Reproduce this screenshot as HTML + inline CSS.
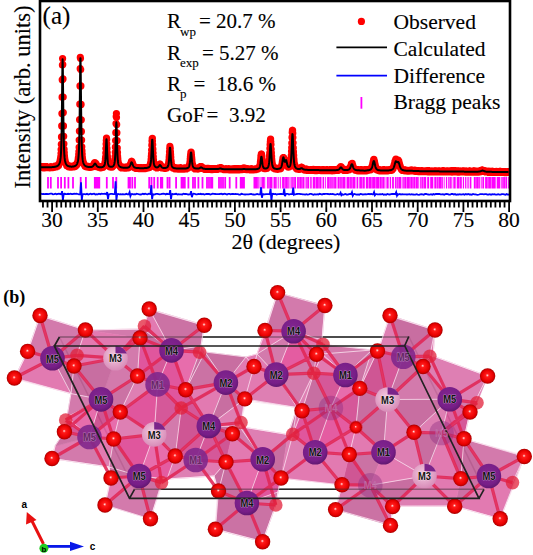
<!DOCTYPE html>
<html><head><meta charset="utf-8"><style>
html,body{margin:0;padding:0;background:#fff;width:533px;height:555px;overflow:hidden;position:relative}
.ct text{stroke:#000;stroke-width:0.12px}
</style></head><body>
<svg width="533" height="555" viewBox="0 0 533 555" style="position:absolute;left:0;top:0"><defs><radialGradient id="rg" cx="0.5" cy="0.5" r="0.5" fx="0.48" fy="0.45"><stop offset="0" stop-color="#ffffff"/><stop offset="0.1" stop-color="#ff8080"/><stop offset="0.22" stop-color="#ff1a1a"/><stop offset="0.75" stop-color="#e80000"/><stop offset="1" stop-color="#a80000"/></radialGradient><radialGradient id="pg" cx="0.45" cy="0.4" r="0.6"><stop offset="0" stop-color="#82268f"/><stop offset="0.75" stop-color="#781e88"/><stop offset="1" stop-color="#621872"/></radialGradient><radialGradient id="lg" cx="0.45" cy="0.4" r="0.6"><stop offset="0" stop-color="#f4cce2"/><stop offset="1" stop-color="#d88cb8"/></radialGradient></defs><path d="M59.5 337H408.8M134.5 489.3H484M59.5 337L134.5 489.3M408.8 336.5L484 489.3" stroke="#222" stroke-width="1.6" fill="none"/><g opacity="0.93"><polygon points="500.2,518.8 512.5,482.6 524.3,456.5" fill="#c8689e" stroke="#c8689e" stroke-width="0.6"/><polygon points="488.9,476.0 512.5,482.6 500.2,518.8" fill="#e070ac" stroke="#e070ac" stroke-width="0.6"/><polygon points="454.7,506.2 488.9,476.0 500.2,518.8" fill="#e070ac" stroke="#e070ac" stroke-width="0.6"/><polygon points="488.9,476.0 454.7,506.2 460.8,478.6" fill="#c8689e" stroke="#c8689e" stroke-width="0.6"/><polygon points="512.5,482.6 488.9,476.0 524.3,456.5" fill="#dc76ae" stroke="#dc76ae" stroke-width="0.6"/><polygon points="157.6,384.4 185.7,389.7 181.2,408.0" fill="#de4a96" stroke="#de4a96" stroke-width="0.6"/><polygon points="154.2,434.4 157.6,384.4 181.2,408.0" fill="#d24c92" stroke="#d24c92" stroke-width="0.6"/><polygon points="27.6,351.4 52.5,358.3 14.4,378.0" fill="#e070ac" stroke="#e070ac" stroke-width="0.6"/><polygon points="52.5,358.3 27.6,351.4 40.0,315.5" fill="#d070a6" stroke="#d070a6" stroke-width="0.6"/><polygon points="52.5,358.3 71.0,393.6 14.4,378.0" fill="#e070ac" stroke="#e070ac" stroke-width="0.6"/><polygon points="85.4,330.0 52.5,358.3 40.0,315.5" fill="#d070a6" stroke="#d070a6" stroke-width="0.6"/><polygon points="171.5,350.4 201.0,346.0 199.6,352.2" fill="#c4649a" stroke="#c4649a" stroke-width="0.6"/><polygon points="185.7,389.7 171.5,350.4 199.6,352.2" fill="#e662a6" stroke="#e662a6" stroke-width="0.6"/><polygon points="171.5,350.4 185.7,389.7 157.6,384.4" fill="#de4a96" stroke="#de4a96" stroke-width="0.6"/><polygon points="204.3,325.2 171.5,350.4 149.2,309.0" fill="#c8689e" stroke="#c8689e" stroke-width="0.6"/><polygon points="201.0,346.0 171.5,350.4 204.3,325.2" fill="#c8689e" stroke="#c8689e" stroke-width="0.6"/><polygon points="205.0,352.0 185.7,389.7 199.6,352.2" fill="#c4649a" stroke="#c4649a" stroke-width="0.6"/><polygon points="201.0,346.0 205.0,352.0 199.6,352.2" fill="#e070ac" stroke="#e070ac" stroke-width="0.6"/><polygon points="154.2,434.4 120.3,412.0 157.6,384.4" fill="#de4a96" stroke="#de4a96" stroke-width="0.6"/><polygon points="85.4,330.0 77.0,355.3 52.5,358.3" fill="#c4649a" stroke="#c4649a" stroke-width="0.6"/><polygon points="246.9,503.0 218.5,491.0 226.0,462.0" fill="#c4649a" stroke="#c4649a" stroke-width="0.6"/><polygon points="205.0,352.0 225.9,382.6 185.7,389.7" fill="#c8689e" stroke="#c8689e" stroke-width="0.6"/><polygon points="215.4,529.3 246.9,503.0 262.6,541.7" fill="#c8689e" stroke="#c8689e" stroke-width="0.6"/><polygon points="246.9,503.0 215.4,529.3 218.5,491.0" fill="#c8689e" stroke="#c8689e" stroke-width="0.6"/><polygon points="225.9,382.6 246.0,357.0 254.0,366.5" fill="#e070ac" stroke="#e070ac" stroke-width="0.6"/><polygon points="246.0,357.0 225.9,382.6 205.0,352.0" fill="#c4649a" stroke="#c4649a" stroke-width="0.6"/><polygon points="161.5,482.6 139.2,476.0 167.0,479.0" fill="#d070a6" stroke="#d070a6" stroke-width="0.6"/><polygon points="139.2,476.0 150.5,518.8 105.0,505.0" fill="#d070a6" stroke="#d070a6" stroke-width="0.6"/><polygon points="139.2,476.0 161.5,482.6 150.5,518.8" fill="#c8689e" stroke="#c8689e" stroke-width="0.6"/><polygon points="175.2,456.0 195.7,460.0 167.0,479.0" fill="#e070ac" stroke="#e070ac" stroke-width="0.6"/><polygon points="139.2,476.0 175.2,456.0 167.0,479.0" fill="#e2509a" stroke="#e2509a" stroke-width="0.6"/><polygon points="175.2,456.0 139.2,476.0 154.2,434.4" fill="#e662a6" stroke="#e662a6" stroke-width="0.6"/><polygon points="175.2,456.0 154.2,434.4 181.2,408.0" fill="#d070a6" stroke="#d070a6" stroke-width="0.6"/><polygon points="195.7,460.0 214.0,476.0 167.0,479.0" fill="#dc76ae" stroke="#dc76ae" stroke-width="0.6"/><polygon points="218.5,491.0 214.0,476.0 226.0,462.0" fill="#c4649a" stroke="#c4649a" stroke-width="0.6"/><polygon points="214.0,476.0 195.7,460.0 226.0,462.0" fill="#e070ac" stroke="#e070ac" stroke-width="0.6"/><polygon points="208.8,426.0 232.4,433.8 226.0,462.0" fill="#cc4a8c" stroke="#cc4a8c" stroke-width="0.6"/><polygon points="195.7,460.0 208.8,426.0 226.0,462.0" fill="#d24c92" stroke="#d24c92" stroke-width="0.6"/><polygon points="208.8,426.0 175.2,456.0 181.2,408.0" fill="#cc4a8c" stroke="#cc4a8c" stroke-width="0.6"/><polygon points="175.2,456.0 208.8,426.0 195.7,460.0" fill="#d24c92" stroke="#d24c92" stroke-width="0.6"/><polygon points="185.7,389.7 208.8,426.0 181.2,408.0" fill="#d24c92" stroke="#d24c92" stroke-width="0.6"/><polygon points="225.9,382.6 208.8,426.0 185.7,389.7" fill="#e070ac" stroke="#e070ac" stroke-width="0.6"/><polygon points="71.0,393.6 74.0,366.0 101.0,399.4" fill="#c4649a" stroke="#c4649a" stroke-width="0.6"/><polygon points="74.0,366.0 71.0,393.6 52.5,358.3" fill="#c8689e" stroke="#c8689e" stroke-width="0.6"/><polygon points="77.0,355.3 74.0,366.0 52.5,358.3" fill="#dc76ae" stroke="#dc76ae" stroke-width="0.6"/><polygon points="372.0,350.0 380.0,345.0 377.5,351.0" fill="#d070a6" stroke="#d070a6" stroke-width="0.6"/><polygon points="324.9,305.5 293.6,331.2 277.6,292.6" fill="#d070a6" stroke="#d070a6" stroke-width="0.6"/><polygon points="293.6,331.2 265.0,330.5 277.6,292.6" fill="#c8689e" stroke="#c8689e" stroke-width="0.6"/><polygon points="377.5,351.0 403.3,356.8 387.6,399.5" fill="#d24c92" stroke="#d24c92" stroke-width="0.6"/><polygon points="403.3,356.8 423.0,366.5 387.6,399.5" fill="#c8689e" stroke="#c8689e" stroke-width="0.6"/><polygon points="380.0,345.0 403.3,356.8 377.5,351.0" fill="#dc76ae" stroke="#dc76ae" stroke-width="0.6"/><polygon points="403.3,356.8 390.0,315.5 435.0,330.0" fill="#c4649a" stroke="#c4649a" stroke-width="0.6"/><polygon points="403.3,356.8 380.0,345.0 390.0,315.5" fill="#dc76ae" stroke="#dc76ae" stroke-width="0.6"/><polygon points="424.5,476.0 392.6,506.5 370.3,485.2" fill="#c4649a" stroke="#c4649a" stroke-width="0.6"/><polygon points="424.5,476.0 441.6,433.0 460.8,478.6" fill="#e070ac" stroke="#e070ac" stroke-width="0.6"/><polygon points="441.6,433.0 424.5,476.0 414.0,432.3" fill="#c4649a" stroke="#c4649a" stroke-width="0.6"/><polygon points="454.7,506.2 424.5,476.0 460.8,478.6" fill="#e070ac" stroke="#e070ac" stroke-width="0.6"/><polygon points="392.6,506.5 424.5,476.0 454.7,506.2" fill="#dc76ae" stroke="#dc76ae" stroke-width="0.6"/><polygon points="392.6,506.5 390.5,525.4 370.3,485.2" fill="#e070ac" stroke="#e070ac" stroke-width="0.6"/><polygon points="171.5,350.4 144.4,326.0 149.2,309.0" fill="#e070ac" stroke="#e070ac" stroke-width="0.6"/><polygon points="137.5,376.0 171.5,350.4 157.6,384.4" fill="#d24c92" stroke="#d24c92" stroke-width="0.6"/><polygon points="137.5,376.0 140.0,338.0 171.5,350.4" fill="#de4a96" stroke="#de4a96" stroke-width="0.6"/><polygon points="137.5,376.0 120.3,412.0 101.0,399.4" fill="#c8689e" stroke="#c8689e" stroke-width="0.6"/><polygon points="120.3,412.0 137.5,376.0 157.6,384.4" fill="#dc76ae" stroke="#dc76ae" stroke-width="0.6"/><polygon points="120.3,412.0 89.5,437.0 101.0,399.4" fill="#cc4a8c" stroke="#cc4a8c" stroke-width="0.6"/><polygon points="89.5,437.0 109.0,467.0 52.0,458.5" fill="#d070a6" stroke="#d070a6" stroke-width="0.6"/><polygon points="55.0,446.0 89.5,437.0 52.0,458.5" fill="#dc76ae" stroke="#dc76ae" stroke-width="0.6"/><polygon points="111.0,478.0 139.2,476.0 105.0,505.0" fill="#e070ac" stroke="#e070ac" stroke-width="0.6"/><polygon points="139.2,476.0 111.0,478.0 109.0,467.0" fill="#c8689e" stroke="#c8689e" stroke-width="0.6"/><polygon points="359.8,388.4 377.5,351.0 387.6,399.5" fill="#cc4a8c" stroke="#cc4a8c" stroke-width="0.6"/><polygon points="359.8,388.4 372.0,350.0 377.5,351.0" fill="#dc76ae" stroke="#dc76ae" stroke-width="0.6"/><polygon points="257.0,354.0 276.3,374.6 254.0,366.5" fill="#e070ac" stroke="#e070ac" stroke-width="0.6"/><polygon points="246.0,357.0 257.0,354.0 254.0,366.5" fill="#e070ac" stroke="#e070ac" stroke-width="0.6"/><polygon points="293.6,331.2 257.0,354.0 265.0,330.5" fill="#e070ac" stroke="#e070ac" stroke-width="0.6"/><polygon points="257.0,354.0 293.6,331.2 276.3,374.6" fill="#d070a6" stroke="#d070a6" stroke-width="0.6"/><polygon points="349.3,454.5 383.5,452.2 370.3,485.2" fill="#c8689e" stroke="#c8689e" stroke-width="0.6"/><polygon points="383.5,452.2 424.5,476.0 370.3,485.2" fill="#e070ac" stroke="#e070ac" stroke-width="0.6"/><polygon points="424.5,476.0 383.5,452.2 414.0,432.3" fill="#dc76ae" stroke="#dc76ae" stroke-width="0.6"/><polygon points="414.0,432.3 383.5,452.2 387.6,399.5" fill="#dc76ae" stroke="#dc76ae" stroke-width="0.6"/><polygon points="429.8,356.2 403.3,356.8 435.0,330.0" fill="#d070a6" stroke="#d070a6" stroke-width="0.6"/><polygon points="403.3,356.8 429.8,356.2 423.0,366.5" fill="#d070a6" stroke="#d070a6" stroke-width="0.6"/><polygon points="464.0,438.8 488.9,476.0 460.8,478.6" fill="#c4649a" stroke="#c4649a" stroke-width="0.6"/><polygon points="441.6,433.0 464.0,438.8 460.8,478.6" fill="#cc4a8c" stroke="#cc4a8c" stroke-width="0.6"/><polygon points="464.0,438.8 441.6,433.0 470.0,412.0" fill="#d24c92" stroke="#d24c92" stroke-width="0.6"/><polygon points="488.9,476.0 464.0,438.8 524.3,456.5" fill="#d070a6" stroke="#d070a6" stroke-width="0.6"/><polygon points="449.8,399.2 441.6,433.0 414.0,432.3" fill="#dc76ae" stroke="#dc76ae" stroke-width="0.6"/><polygon points="423.0,366.5 449.8,399.2 387.6,399.5" fill="#d070a6" stroke="#d070a6" stroke-width="0.6"/><polygon points="449.8,399.2 414.0,432.3 387.6,399.5" fill="#c4649a" stroke="#c4649a" stroke-width="0.6"/><polygon points="441.6,433.0 449.8,399.2 470.0,412.0" fill="#da589c" stroke="#da589c" stroke-width="0.6"/><polygon points="449.8,399.2 477.0,402.8 470.0,412.0" fill="#d070a6" stroke="#d070a6" stroke-width="0.6"/><polygon points="477.0,402.8 449.8,399.2 487.6,376.0" fill="#dc76ae" stroke="#dc76ae" stroke-width="0.6"/><polygon points="140.0,338.0 143.0,329.0 171.5,350.4" fill="#c4649a" stroke="#c4649a" stroke-width="0.6"/><polygon points="143.0,329.0 144.4,326.0 171.5,350.4" fill="#c4649a" stroke="#c4649a" stroke-width="0.6"/><polygon points="143.0,329.0 140.0,338.0 85.4,330.0" fill="#d070a6" stroke="#d070a6" stroke-width="0.6"/><polygon points="137.5,376.0 115.5,358.2 140.0,338.0" fill="#d070a6" stroke="#d070a6" stroke-width="0.6"/><polygon points="115.5,358.2 77.0,355.3 85.4,330.0" fill="#e070ac" stroke="#e070ac" stroke-width="0.6"/><polygon points="140.0,338.0 115.5,358.2 85.4,330.0" fill="#e070ac" stroke="#e070ac" stroke-width="0.6"/><polygon points="115.5,358.2 137.5,376.0 101.0,399.4" fill="#d070a6" stroke="#d070a6" stroke-width="0.6"/><polygon points="74.0,366.0 115.5,358.2 101.0,399.4" fill="#c4649a" stroke="#c4649a" stroke-width="0.6"/><polygon points="115.5,358.2 74.0,366.0 77.0,355.3" fill="#e070ac" stroke="#e070ac" stroke-width="0.6"/><polygon points="113.7,439.0 89.5,437.0 120.3,412.0" fill="#e662a6" stroke="#e662a6" stroke-width="0.6"/><polygon points="89.5,437.0 113.7,439.0 109.0,467.0" fill="#e070ac" stroke="#e070ac" stroke-width="0.6"/><polygon points="113.7,439.0 120.3,412.0 154.2,434.4" fill="#dc76ae" stroke="#dc76ae" stroke-width="0.6"/><polygon points="139.2,476.0 113.7,439.0 154.2,434.4" fill="#de4a96" stroke="#de4a96" stroke-width="0.6"/><polygon points="113.7,439.0 139.2,476.0 109.0,467.0" fill="#c8689e" stroke="#c8689e" stroke-width="0.6"/><polygon points="67.0,417.0 71.0,393.6 101.0,399.4" fill="#d070a6" stroke="#d070a6" stroke-width="0.6"/><polygon points="89.5,437.0 67.0,417.0 101.0,399.4" fill="#e662a6" stroke="#e662a6" stroke-width="0.6"/><polygon points="322.0,340.0 293.6,331.2 324.9,305.5" fill="#d070a6" stroke="#d070a6" stroke-width="0.6"/><polygon points="276.3,374.6 316.5,354.3 313.8,373.2" fill="#d070a6" stroke="#d070a6" stroke-width="0.6"/><polygon points="293.6,331.2 316.5,354.3 276.3,374.6" fill="#e2509a" stroke="#e2509a" stroke-width="0.6"/><polygon points="322.0,340.0 316.5,354.3 293.6,331.2" fill="#e070ac" stroke="#e070ac" stroke-width="0.6"/><polygon points="316.5,354.3 322.0,340.0 323.0,344.4" fill="#e070ac" stroke="#e070ac" stroke-width="0.6"/><polygon points="345.4,375.0 323.0,344.4 372.0,350.0" fill="#d070a6" stroke="#d070a6" stroke-width="0.6"/><polygon points="359.8,388.4 345.4,375.0 372.0,350.0" fill="#c8689e" stroke="#c8689e" stroke-width="0.6"/><polygon points="345.4,375.0 330.9,408.0 313.8,373.2" fill="#d24c92" stroke="#d24c92" stroke-width="0.6"/><polygon points="330.9,408.0 345.4,375.0 359.8,388.4" fill="#e662a6" stroke="#e662a6" stroke-width="0.6"/><polygon points="232.4,433.8 262.7,459.3 226.0,462.0" fill="#e070ac" stroke="#e070ac" stroke-width="0.6"/><polygon points="262.7,459.3 246.9,503.0 226.0,462.0" fill="#e662a6" stroke="#e662a6" stroke-width="0.6"/><polygon points="246.9,503.0 275.8,505.0 262.6,541.7" fill="#c8689e" stroke="#c8689e" stroke-width="0.6"/><polygon points="342.0,484.7 349.3,454.5 370.3,485.2" fill="#cc4a8c" stroke="#cc4a8c" stroke-width="0.6"/><polygon points="429.8,356.2 433.0,356.0 423.0,366.5" fill="#d070a6" stroke="#d070a6" stroke-width="0.6"/><polygon points="433.0,356.0 449.8,399.2 423.0,366.5" fill="#dc76ae" stroke="#dc76ae" stroke-width="0.6"/><polygon points="449.8,399.2 433.0,356.0 487.6,376.0" fill="#dc76ae" stroke="#dc76ae" stroke-width="0.6"/><polygon points="433.0,356.0 429.8,356.2 435.0,330.0" fill="#dc76ae" stroke="#dc76ae" stroke-width="0.6"/><polygon points="64.4,431.7 89.5,437.0 55.0,446.0" fill="#c8689e" stroke="#c8689e" stroke-width="0.6"/><polygon points="355.9,427.3 330.9,408.0 359.8,388.4" fill="#d24c92" stroke="#d24c92" stroke-width="0.6"/><polygon points="355.9,427.3 359.8,388.4 387.6,399.5" fill="#c4649a" stroke="#c4649a" stroke-width="0.6"/><polygon points="383.5,452.2 355.9,427.3 387.6,399.5" fill="#c4649a" stroke="#c4649a" stroke-width="0.6"/><polygon points="355.9,427.3 383.5,452.2 349.3,454.5" fill="#e070ac" stroke="#e070ac" stroke-width="0.6"/><polygon points="330.9,408.0 302.0,410.7 313.8,373.2" fill="#c4649a" stroke="#c4649a" stroke-width="0.6"/><polygon points="322.0,354.0 316.5,354.3 323.0,344.4" fill="#cc4a8c" stroke="#cc4a8c" stroke-width="0.6"/><polygon points="345.4,375.0 322.0,354.0 323.0,344.4" fill="#e070ac" stroke="#e070ac" stroke-width="0.6"/><polygon points="316.5,354.3 322.0,354.0 313.8,373.2" fill="#cc4a8c" stroke="#cc4a8c" stroke-width="0.6"/><polygon points="322.0,354.0 345.4,375.0 313.8,373.2" fill="#e070ac" stroke="#e070ac" stroke-width="0.6"/><polygon points="278.0,492.0 275.8,505.0 246.9,503.0" fill="#d070a6" stroke="#d070a6" stroke-width="0.6"/><polygon points="262.7,459.3 278.0,492.0 246.9,503.0" fill="#de4a96" stroke="#de4a96" stroke-width="0.6"/><polygon points="278.0,492.0 262.7,459.3 281.0,478.0" fill="#de4a96" stroke="#de4a96" stroke-width="0.6"/><polygon points="65.7,420.0 67.0,417.0 89.5,437.0" fill="#e662a6" stroke="#e662a6" stroke-width="0.6"/><polygon points="64.4,431.7 65.7,420.0 89.5,437.0" fill="#d24c92" stroke="#d24c92" stroke-width="0.6"/><polygon points="390.5,525.4 335.6,509.6 370.3,485.2" fill="#c8689e" stroke="#c8689e" stroke-width="0.6"/><polygon points="335.6,509.6 342.0,484.7 370.3,485.2" fill="#dc76ae" stroke="#dc76ae" stroke-width="0.6"/><polygon points="262.7,459.3 288.0,434.5 281.0,478.0" fill="#c4649a" stroke="#c4649a" stroke-width="0.6"/><polygon points="288.0,434.5 292.8,434.4 281.0,478.0" fill="#dc76ae" stroke="#dc76ae" stroke-width="0.6"/><polygon points="315.2,452.2 342.0,484.7 281.0,478.0" fill="#e070ac" stroke="#e070ac" stroke-width="0.6"/><polygon points="292.8,434.4 315.2,452.2 281.0,478.0" fill="#dc76ae" stroke="#dc76ae" stroke-width="0.6"/><polygon points="342.0,484.7 315.2,452.2 349.3,454.5" fill="#e070ac" stroke="#e070ac" stroke-width="0.6"/><polygon points="315.2,452.2 355.9,427.3 349.3,454.5" fill="#e662a6" stroke="#e662a6" stroke-width="0.6"/><polygon points="355.9,427.3 315.2,452.2 330.9,408.0" fill="#e2509a" stroke="#e2509a" stroke-width="0.6"/><polygon points="315.2,452.2 302.0,410.7 330.9,408.0" fill="#d24c92" stroke="#d24c92" stroke-width="0.6"/><polygon points="315.2,452.2 292.8,434.4 302.0,410.7" fill="#de4a96" stroke="#de4a96" stroke-width="0.6"/><polygon points="239.5,426.5 288.0,434.5 262.7,459.3" fill="#dc76ae" stroke="#dc76ae" stroke-width="0.6"/><polygon points="239.5,426.5 262.7,459.3 232.4,433.8" fill="#d070a6" stroke="#d070a6" stroke-width="0.6"/><polygon points="208.8,426.0 239.5,426.5 232.4,433.8" fill="#c4649a" stroke="#c4649a" stroke-width="0.6"/><polygon points="241.0,422.5 239.5,426.5 208.8,426.0" fill="#e070ac" stroke="#e070ac" stroke-width="0.6"/><polygon points="292.8,434.4 297.0,407.5 302.0,410.7" fill="#e070ac" stroke="#e070ac" stroke-width="0.6"/><polygon points="288.0,434.5 297.0,407.5 292.8,434.4" fill="#c8689e" stroke="#c8689e" stroke-width="0.6"/><polygon points="297.0,407.5 276.3,374.6 313.8,373.2" fill="#d070a6" stroke="#d070a6" stroke-width="0.6"/><polygon points="302.0,410.7 297.0,407.5 313.8,373.2" fill="#dc76ae" stroke="#dc76ae" stroke-width="0.6"/><polygon points="244.8,398.9 208.8,426.0 225.9,382.6" fill="#c4649a" stroke="#c4649a" stroke-width="0.6"/><polygon points="244.8,398.9 241.0,422.5 208.8,426.0" fill="#dc76ae" stroke="#dc76ae" stroke-width="0.6"/><polygon points="244.8,398.9 225.9,382.6 254.0,366.5" fill="#dc76ae" stroke="#dc76ae" stroke-width="0.6"/><polygon points="276.3,374.6 244.8,398.9 254.0,366.5" fill="#e070ac" stroke="#e070ac" stroke-width="0.6"/><polygon points="297.0,407.5 244.8,398.9 276.3,374.6" fill="#dc76ae" stroke="#dc76ae" stroke-width="0.6"/></g><polygon points="40.0,316.0 86.0,329.8 143.0,329.0 149.4,309.5 204.4,325.5 201.0,346.0 205.0,352.0 246.0,357.0 257.0,354.0 265.5,331.0 277.6,292.6 325.0,306.0 322.0,340.0 322.0,354.0 372.0,350.0 380.0,345.0 389.5,316.0 435.0,330.0 433.0,356.0 487.6,376.0 470.0,412.0 464.0,439.0 524.4,455.3 515.0,483.0 500.0,519.0 454.0,506.0 393.0,506.0 390.8,525.0 335.6,509.6 342.0,485.0 281.0,478.0 278.0,492.0 275.8,505.0 262.6,541.5 215.0,529.0 217.6,490.0 214.0,476.0 167.0,479.0 163.0,483.0 150.0,519.0 105.0,505.0 110.6,477.5 109.0,467.0 52.0,458.5 55.0,446.0 64.4,431.7 67.0,417.0 71.0,393.6 14.4,379.0 27.6,352.0" fill="none" stroke="#fbe4f0" stroke-width="1" opacity="0.8"/><polygon points="246.5,401.0 297.0,407.5 288.0,434.5 239.5,426.5" fill="none" stroke="#fbe4f0" stroke-width="1" opacity="0.8"/><path d="M316.5 354.3L276.3 374.6M244.8 398.9L276.3 374.6M244.8 398.9L208.8 426.0M392.6 506.5L390.5 525.4M281.0 478.0L292.8 434.4M464.0 438.8L488.9 476.0M302.0 410.7L292.8 434.4M500.2 518.8L488.9 476.0M218.5 491.0L246.9 503.0M277.6 292.6L293.6 331.2M244.8 398.9L297.0 407.5M205.0 352.0L225.9 382.6M225.9 382.6L208.8 426.0M392.6 506.5L454.7 506.2M313.8 373.2L345.4 375.0M27.6 351.4L14.4 378.0M171.5 350.4L157.6 384.4M161.5 482.6L167.0 479.0M470.0 412.0L441.6 433.0M140.0 338.0L115.5 358.2M262.6 541.7L275.8 505.0M377.5 351.0L372.0 350.0M226.0 462.0L262.7 459.3M454.7 506.2L500.2 518.8M316.5 354.3L322.0 354.0M342.0 484.7L335.6 509.6M403.3 356.8L387.6 399.5M370.3 485.2L424.5 476.0M154.2 434.4L139.2 476.0M464.0 438.8L441.6 433.0M302.0 410.7L313.8 373.2M65.7 420.0L67.0 417.0M390.0 315.5L380.0 345.0M429.8 356.2L403.3 356.8M470.0 412.0L464.0 438.8M355.9 427.3L383.5 452.2M292.8 434.4L297.0 407.5M214.0 476.0L167.0 479.0M281.0 478.0L278.0 492.0M144.4 326.0L171.5 350.4M161.5 482.6L139.2 476.0M105.0 505.0L139.2 476.0M372.0 350.0L380.0 345.0M297.0 407.5L288.0 434.5M524.3 456.5L512.5 482.6M67.0 417.0L89.5 437.0M52.0 458.5L55.0 446.0M460.8 478.6L488.9 476.0M40.0 315.5L27.6 351.4M423.0 366.5L433.0 356.0M150.5 518.8L139.2 476.0M208.8 426.0L195.7 460.0M185.7 389.7L157.6 384.4M113.7 439.0L154.2 434.4M199.6 352.2L171.5 350.4M109.0 467.0L139.2 476.0M477.0 402.8L449.8 399.2M387.6 399.5L383.5 452.2M316.5 354.3L322.0 340.0M254.0 366.5L244.8 398.9M414.0 432.3L449.8 399.2M316.5 354.3L293.6 331.2M275.8 505.0L246.9 503.0M342.0 484.7L315.2 452.2M288.0 434.5L239.5 426.5M244.8 398.9L225.9 382.6M143.0 329.0L171.5 350.4M140.0 338.0L143.0 329.0M137.5 376.0L101.0 399.4M175.2 456.0L139.2 476.0M383.5 452.2L424.5 476.0M74.0 366.0L115.5 358.2M14.4 378.0L52.5 358.3M316.5 354.3L313.8 373.2M185.7 389.7L208.8 426.0M323.0 344.4L322.0 340.0M359.8 388.4L355.9 427.3M524.3 456.5L500.2 518.8M226.0 462.0L208.8 426.0M120.3 412.0L101.0 399.4M454.7 506.2L488.9 476.0M487.6 376.0L433.0 356.0M313.8 373.2L322.0 354.0M349.3 454.5L315.2 452.2M232.4 433.8L208.8 426.0M460.8 478.6L441.6 433.0M175.2 456.0L154.2 434.4M137.5 376.0L157.6 384.4M64.4 431.7L89.5 437.0M323.0 344.4L372.0 350.0M322.0 340.0L293.6 331.2M275.8 505.0L278.0 492.0M149.2 309.0L204.3 325.2M204.3 325.2L171.5 350.4M323.0 344.4L345.4 375.0M226.0 462.0L195.7 460.0M120.3 412.0L157.6 384.4M257.0 354.0L276.3 374.6M349.3 454.5L355.9 427.3M241.0 422.5L208.8 426.0M113.7 439.0L109.0 467.0M390.0 315.5L435.0 330.0M199.6 352.2L201.0 346.0M74.0 366.0L71.0 393.6M355.9 427.3L315.2 452.2M244.8 398.9L241.0 422.5M254.0 366.5L246.0 357.0M149.2 309.0L144.4 326.0M85.4 330.0L143.0 329.0M345.4 375.0L330.9 408.0M181.2 408.0L154.2 434.4M226.0 462.0L218.5 491.0M218.5 491.0L215.4 529.3M390.5 525.4L370.3 485.2M265.0 330.5L293.6 331.2M40.0 315.5L52.5 358.3M449.8 399.2L441.6 433.0M239.5 426.5L262.7 459.3M232.4 433.8L239.5 426.5M423.0 366.5L429.8 356.2M372.0 350.0L345.4 375.0M429.8 356.2L433.0 356.0M278.0 492.0L246.9 503.0M377.5 351.0L359.8 388.4M52.0 458.5L109.0 467.0M140.0 338.0L137.5 376.0M218.5 491.0L214.0 476.0M460.8 478.6L424.5 476.0M359.8 388.4L387.6 399.5M293.6 331.2L276.3 374.6M175.2 456.0L181.2 408.0M111.0 478.0L109.0 467.0M101.0 399.4L89.5 437.0M524.3 456.5L488.9 476.0M435.0 330.0L433.0 356.0M85.4 330.0L52.5 358.3M64.4 431.7L65.7 420.0M185.7 389.7L199.6 352.2M241.0 422.5L239.5 426.5M137.5 376.0L120.3 412.0M167.0 479.0L139.2 476.0M324.9 305.5L322.0 340.0M464.0 438.8L460.8 478.6M324.9 305.5L293.6 331.2M313.8 373.2L276.3 374.6M71.0 393.6L52.5 358.3M204.3 325.2L201.0 346.0M316.5 354.3L323.0 344.4M246.0 357.0L225.9 382.6M71.0 393.6L101.0 399.4M65.7 420.0L89.5 437.0M454.7 506.2L424.5 476.0M414.0 432.3L441.6 433.0M111.0 478.0L105.0 505.0M137.5 376.0L115.5 358.2M297.0 407.5L276.3 374.6M175.2 456.0L208.8 426.0M313.8 373.2L297.0 407.5M441.6 433.0L424.5 476.0M265.0 330.5L277.6 292.6M181.2 408.0L157.6 384.4M120.3 412.0L113.7 439.0M449.8 399.2L387.6 399.5M239.5 426.5L208.8 426.0M377.5 351.0L380.0 345.0M359.8 388.4L372.0 350.0M257.0 354.0L293.6 331.2M349.3 454.5L383.5 452.2M67.0 417.0L101.0 399.4M149.2 309.0L171.5 350.4M355.9 427.3L387.6 399.5M175.2 456.0L195.7 460.0M355.9 427.3L330.9 408.0M330.9 408.0L315.2 452.2M157.6 384.4L154.2 434.4M113.7 439.0L89.5 437.0M40.0 315.5L85.4 330.0M85.4 330.0L77.0 355.3M181.2 408.0L208.8 426.0M313.8 373.2L330.9 408.0M302.0 410.7L297.0 407.5M262.7 459.3L246.9 503.0M185.7 389.7L205.0 352.0M74.0 366.0L77.0 355.3M464.0 438.8L524.3 456.5M377.5 351.0L387.6 399.5M414.0 432.3L424.5 476.0M392.6 506.5L370.3 485.2M14.4 378.0L71.0 393.6M226.0 462.0L214.0 476.0M215.4 529.3L262.6 541.7M470.0 412.0L449.8 399.2M435.0 330.0L429.8 356.2M254.0 366.5L257.0 354.0M322.0 354.0L345.4 375.0M74.0 366.0L52.5 358.3M185.7 389.7L225.9 382.6M74.0 366.0L101.0 399.4M150.5 518.8L161.5 482.6M423.0 366.5L387.6 399.5M201.0 346.0L171.5 350.4M302.0 410.7L330.9 408.0M292.8 434.4L315.2 452.2M175.2 456.0L167.0 479.0M414.0 432.3L387.6 399.5" stroke="#fbe4f0" stroke-width="0.9" fill="none" opacity="0.85"/><path d="M52.5 358.3L74.0 366.0M52.5 358.3L77.0 355.3M52.5 358.3L27.6 351.4M52.5 358.3L14.4 378.0M52.5 358.3L85.4 330.0M52.5 358.3L40.0 315.5M115.5 358.2L137.5 376.0M115.5 358.2L140.0 338.0M115.5 358.2L77.0 355.3M115.5 358.2L85.4 330.0M115.5 358.2L74.0 366.0M115.5 358.2L144.4 326.0M171.5 350.4L199.6 352.2M171.5 350.4L140.0 338.0M171.5 350.4L144.4 326.0M171.5 350.4L204.3 325.2M171.5 350.4L185.7 389.7M171.5 350.4L137.5 376.0M293.6 331.2L265.0 330.5M293.6 331.2L323.0 344.4M293.6 331.2L316.5 354.3M293.6 331.2L324.9 305.5M293.6 331.2L277.6 292.6M293.6 331.2L313.8 373.2M276.3 374.6L254.0 366.5M276.3 374.6L313.8 373.2M276.3 374.6L244.8 398.9M276.3 374.6L302.0 410.7M276.3 374.6L316.5 354.3M276.3 374.6L265.0 330.5M345.4 375.0L359.8 388.4M345.4 375.0L313.8 373.2M345.4 375.0L316.5 354.3M345.4 375.0L323.0 344.4M345.4 375.0L377.5 351.0M403.3 356.8L423.0 366.5M403.3 356.8L377.5 351.0M403.3 356.8L429.8 356.2M403.3 356.8L435.0 330.0M403.3 356.8L390.0 315.5M449.8 399.2L470.0 412.0M449.8 399.2L477.0 402.8M449.8 399.2L464.0 438.8M449.8 399.2L423.0 366.5M449.8 399.2L487.6 376.0M449.8 399.2L429.8 356.2M387.6 399.5L359.8 388.4M387.6 399.5L414.0 432.3M387.6 399.5L355.9 427.3M387.6 399.5L423.0 366.5M387.6 399.5L377.5 351.0M101.0 399.4L120.3 412.0M101.0 399.4L65.7 420.0M101.0 399.4L113.7 439.0M101.0 399.4L74.0 366.0M101.0 399.4L137.5 376.0M101.0 399.4L64.4 431.7M89.5 437.0L113.7 439.0M89.5 437.0L64.4 431.7M89.5 437.0L65.7 420.0M89.5 437.0L120.3 412.0M89.5 437.0L52.0 458.5M89.5 437.0L111.0 478.0M157.6 384.4L137.5 376.0M157.6 384.4L185.7 389.7M157.6 384.4L181.2 408.0M157.6 384.4L120.3 412.0M157.6 384.4L140.0 338.0M225.9 382.6L244.8 398.9M225.9 382.6L254.0 366.5M225.9 382.6L199.6 352.2M225.9 382.6L185.7 389.7M225.9 382.6L241.0 422.5M225.9 382.6L181.2 408.0M208.8 426.0L232.4 433.8M208.8 426.0L241.0 422.5M208.8 426.0L181.2 408.0M208.8 426.0L226.0 462.0M208.8 426.0L185.7 389.7M208.8 426.0L175.2 456.0M154.2 434.4L175.2 456.0M154.2 434.4L181.2 408.0M154.2 434.4L120.3 412.0M154.2 434.4L113.7 439.0M154.2 434.4L161.5 482.6M195.7 460.0L175.2 456.0M195.7 460.0L226.0 462.0M195.7 460.0L218.5 491.0M195.7 460.0L161.5 482.6M195.7 460.0L232.4 433.8M262.7 459.3L281.0 478.0M262.7 459.3L226.0 462.0M262.7 459.3L292.8 434.4M262.7 459.3L232.4 433.8M262.7 459.3L241.0 422.5M262.7 459.3L275.8 505.0M330.9 408.0L302.0 410.7M330.9 408.0L355.9 427.3M330.9 408.0L359.8 388.4M330.9 408.0L313.8 373.2M330.9 408.0L292.8 434.4M330.9 408.0L349.3 454.5M315.2 452.2L292.8 434.4M315.2 452.2L349.3 454.5M315.2 452.2L342.0 484.7M315.2 452.2L281.0 478.0M315.2 452.2L302.0 410.7M315.2 452.2L355.9 427.3M383.5 452.2L349.3 454.5M383.5 452.2L414.0 432.3M383.5 452.2L355.9 427.3M441.6 433.0L464.0 438.8M441.6 433.0L414.0 432.3M441.6 433.0L470.0 412.0M441.6 433.0L477.0 402.8M441.6 433.0L460.8 478.6M139.2 476.0L161.5 482.6M139.2 476.0L111.0 478.0M139.2 476.0L175.2 456.0M139.2 476.0L150.5 518.8M139.2 476.0L105.0 505.0M139.2 476.0L113.7 439.0M246.9 503.0L275.8 505.0M246.9 503.0L218.5 491.0M246.9 503.0L215.4 529.3M246.9 503.0L262.6 541.7M246.9 503.0L281.0 478.0M246.9 503.0L226.0 462.0M370.3 485.2L342.0 484.7M370.3 485.2L392.6 506.5M370.3 485.2L349.3 454.5M370.3 485.2L335.6 509.6M370.3 485.2L390.5 525.4M424.5 476.0L460.8 478.6M424.5 476.0L454.7 506.2M424.5 476.0L392.6 506.5M424.5 476.0L414.0 432.3M488.9 476.0L512.5 482.6M488.9 476.0L460.8 478.6M488.9 476.0L524.3 456.5M488.9 476.0L500.2 518.8M488.9 476.0L464.0 438.8M488.9 476.0L454.7 506.2" stroke="#e02858" stroke-width="3.2" fill="none" opacity="0.9"/><circle cx="355.9" cy="427.3" r="6.8" fill="#e2203a" opacity="0.75"/><circle cx="144.4" cy="326.0" r="6.8" fill="#e2203a" opacity="0.75"/><circle cx="199.6" cy="352.2" r="6.8" fill="#e2203a" opacity="0.75"/><circle cx="323.0" cy="344.4" r="6.8" fill="#e2203a" opacity="0.75"/><circle cx="313.8" cy="373.2" r="6.8" fill="#e2203a" opacity="0.75"/><circle cx="429.8" cy="356.2" r="6.8" fill="#e2203a" opacity="0.75"/><circle cx="65.7" cy="420.0" r="6.8" fill="#e2203a" opacity="0.75"/><circle cx="181.2" cy="408.0" r="6.8" fill="#e2203a" opacity="0.75"/><circle cx="241.0" cy="422.5" r="6.8" fill="#e2203a" opacity="0.75"/><circle cx="292.8" cy="434.4" r="6.8" fill="#e2203a" opacity="0.75"/><circle cx="477.0" cy="402.8" r="6.8" fill="#e2203a" opacity="0.75"/><circle cx="161.5" cy="482.6" r="6.8" fill="#e2203a" opacity="0.75"/><circle cx="275.8" cy="505.0" r="6.8" fill="#e2203a" opacity="0.75"/><circle cx="512.5" cy="482.6" r="6.8" fill="#e2203a" opacity="0.75"/><circle cx="77.0" cy="355.3" r="6.8" fill="#e2203a" opacity="0.75"/><circle cx="52.5" cy="358.3" r="12.3" fill="url(#pg)"/><circle cx="115.5" cy="358.2" r="12.3" fill="url(#lg)"/><path d="M115.5 345.9A12.3 12.3 0 0 1 126.9 353.6L115.5 353.2Z" fill="#7a248a"/><circle cx="171.5" cy="350.4" r="12.3" fill="url(#pg)"/><circle cx="293.6" cy="331.2" r="12.3" fill="url(#pg)"/><circle cx="276.3" cy="374.6" r="12.3" fill="url(#pg)"/><circle cx="345.4" cy="375.0" r="12.3" fill="url(#pg)"/><circle cx="403.3" cy="356.8" r="12.3" fill="#82288c" opacity="0.92"/><circle cx="449.8" cy="399.2" r="12.3" fill="url(#pg)"/><circle cx="387.6" cy="399.5" r="12.3" fill="url(#lg)"/><path d="M387.6 387.2A12.3 12.3 0 0 1 399.0 394.9L387.6 394.5Z" fill="#7a248a"/><circle cx="101.0" cy="399.4" r="12.3" fill="url(#pg)"/><circle cx="89.5" cy="437.0" r="12.3" fill="#82288c" opacity="0.92"/><circle cx="157.6" cy="384.4" r="12.3" fill="#82288c" opacity="0.92"/><circle cx="225.9" cy="382.6" r="12.3" fill="url(#pg)"/><circle cx="208.8" cy="426.0" r="12.3" fill="url(#pg)"/><circle cx="154.2" cy="434.4" r="12.3" fill="url(#lg)"/><path d="M154.2 422.1A12.3 12.3 0 0 1 165.6 429.8L154.2 429.4Z" fill="#7a248a"/><circle cx="195.7" cy="460.0" r="12.3" fill="#82288c" opacity="0.92"/><circle cx="262.7" cy="459.3" r="12.3" fill="url(#pg)"/><circle cx="330.9" cy="408.0" r="12.3" fill="#8a2a80" opacity="0.4"/><circle cx="315.2" cy="452.2" r="12.3" fill="url(#pg)"/><circle cx="383.5" cy="452.2" r="12.3" fill="url(#pg)"/><circle cx="441.6" cy="433.0" r="12.3" fill="#8a2a80" opacity="0.4"/><circle cx="139.2" cy="476.0" r="12.3" fill="url(#pg)"/><circle cx="246.9" cy="503.0" r="12.3" fill="url(#pg)"/><circle cx="370.3" cy="485.2" r="12.3" fill="#8a2a80" opacity="0.4"/><circle cx="424.5" cy="476.0" r="12.3" fill="url(#lg)"/><path d="M424.5 463.7A12.3 12.3 0 0 1 435.9 471.4L424.5 471.0Z" fill="#7a248a"/><circle cx="488.9" cy="476.0" r="12.3" fill="url(#pg)"/><circle cx="40.0" cy="315.5" r="7.7" fill="url(#rg)"/><circle cx="85.4" cy="330.0" r="7.7" fill="url(#rg)"/><circle cx="27.6" cy="351.4" r="7.7" fill="url(#rg)"/><circle cx="74.0" cy="366.0" r="7.7" fill="url(#rg)"/><circle cx="14.4" cy="378.0" r="7.7" fill="url(#rg)"/><circle cx="140.0" cy="338.0" r="7.7" fill="url(#rg)"/><circle cx="137.5" cy="376.0" r="7.7" fill="url(#rg)"/><circle cx="149.2" cy="309.0" r="7.7" fill="url(#rg)"/><circle cx="204.3" cy="325.2" r="7.7" fill="url(#rg)"/><circle cx="265.0" cy="330.5" r="7.7" fill="url(#rg)"/><circle cx="254.0" cy="366.5" r="7.7" fill="url(#rg)"/><circle cx="277.6" cy="292.6" r="7.7" fill="url(#rg)"/><circle cx="324.9" cy="305.5" r="7.7" fill="url(#rg)"/><circle cx="316.5" cy="354.3" r="7.7" fill="url(#rg)"/><circle cx="390.0" cy="315.5" r="7.7" fill="url(#rg)"/><circle cx="377.5" cy="351.0" r="7.7" fill="url(#rg)"/><circle cx="435.0" cy="330.0" r="7.7" fill="url(#rg)"/><circle cx="423.0" cy="366.5" r="7.7" fill="url(#rg)"/><circle cx="487.6" cy="376.0" r="7.7" fill="url(#rg)"/><circle cx="120.3" cy="412.0" r="7.7" fill="url(#rg)"/><circle cx="64.4" cy="431.7" r="7.7" fill="url(#rg)"/><circle cx="113.7" cy="439.0" r="7.7" fill="url(#rg)"/><circle cx="52.0" cy="458.5" r="7.7" fill="url(#rg)"/><circle cx="185.7" cy="389.7" r="7.7" fill="url(#rg)"/><circle cx="244.8" cy="398.9" r="7.7" fill="url(#rg)"/><circle cx="232.4" cy="433.8" r="7.7" fill="url(#rg)"/><circle cx="175.2" cy="456.0" r="7.7" fill="url(#rg)"/><circle cx="226.0" cy="462.0" r="7.7" fill="url(#rg)"/><circle cx="302.0" cy="410.7" r="7.7" fill="url(#rg)"/><circle cx="359.8" cy="388.4" r="7.7" fill="url(#rg)"/><circle cx="349.3" cy="454.5" r="7.7" fill="url(#rg)"/><circle cx="470.0" cy="412.0" r="7.7" fill="url(#rg)"/><circle cx="414.0" cy="432.3" r="7.7" fill="url(#rg)"/><circle cx="464.0" cy="438.8" r="7.7" fill="url(#rg)"/><circle cx="524.3" cy="456.5" r="7.7" fill="url(#rg)"/><circle cx="111.0" cy="478.0" r="7.7" fill="url(#rg)"/><circle cx="105.0" cy="505.0" r="7.7" fill="url(#rg)"/><circle cx="218.5" cy="491.0" r="7.7" fill="url(#rg)"/><circle cx="150.5" cy="518.8" r="7.7" fill="url(#rg)"/><circle cx="215.4" cy="529.3" r="7.7" fill="url(#rg)"/><circle cx="262.6" cy="541.7" r="7.7" fill="url(#rg)"/><circle cx="281.0" cy="478.0" r="7.7" fill="url(#rg)"/><circle cx="342.0" cy="484.7" r="7.7" fill="url(#rg)"/><circle cx="335.6" cy="509.6" r="7.7" fill="url(#rg)"/><circle cx="392.6" cy="506.5" r="7.7" fill="url(#rg)"/><circle cx="390.5" cy="525.4" r="7.7" fill="url(#rg)"/><circle cx="460.8" cy="478.6" r="7.7" fill="url(#rg)"/><circle cx="454.7" cy="506.2" r="7.7" fill="url(#rg)"/><circle cx="500.2" cy="518.8" r="7.7" fill="url(#rg)"/><circle cx="355.9" cy="427.3" r="6" fill="url(#rg)"/><path d="M59.5 337H408.8M134.5 489.3H484" stroke="#333" stroke-width="1.4" fill="none" opacity="0.4"/><path d="M54.4 346L59.5 337M408.8 336.5L404.8 345.5M129.5 498.3L134.5 489.3M484 489.3L479 498.3M54.4 346H404.8L479 498.3H129.5Z" stroke="#222" stroke-width="1.7" fill="none"/><text x="52.5" y="362.5" font-family="Liberation Sans" font-weight="bold" font-size="11" text-anchor="middle" textLength="13" lengthAdjust="spacingAndGlyphs" fill="#111" stroke="#fff" stroke-width="0.7" stroke-opacity="0.75" paint-order="stroke">M5</text><text x="115.5" y="362.4" font-family="Liberation Sans" font-weight="bold" font-size="11" text-anchor="middle" textLength="13" lengthAdjust="spacingAndGlyphs" fill="#111" stroke="#fff" stroke-width="0.7" stroke-opacity="0.75" paint-order="stroke">M3</text><text x="171.5" y="354.6" font-family="Liberation Sans" font-weight="bold" font-size="11" text-anchor="middle" textLength="13" lengthAdjust="spacingAndGlyphs" fill="#111" stroke="#fff" stroke-width="0.7" stroke-opacity="0.75" paint-order="stroke">M4</text><text x="293.6" y="335.4" font-family="Liberation Sans" font-weight="bold" font-size="11" text-anchor="middle" textLength="13" lengthAdjust="spacingAndGlyphs" fill="#111" stroke="#fff" stroke-width="0.7" stroke-opacity="0.75" paint-order="stroke">M4</text><text x="276.3" y="378.8" font-family="Liberation Sans" font-weight="bold" font-size="11" text-anchor="middle" textLength="13" lengthAdjust="spacingAndGlyphs" fill="#111" stroke="#fff" stroke-width="0.7" stroke-opacity="0.75" paint-order="stroke">M2</text><text x="345.4" y="379.2" font-family="Liberation Sans" font-weight="bold" font-size="11" text-anchor="middle" textLength="13" lengthAdjust="spacingAndGlyphs" fill="#111" stroke="#fff" stroke-width="0.7" stroke-opacity="0.75" paint-order="stroke">M1</text><text x="403.3" y="361.0" font-family="Liberation Sans" font-weight="bold" font-size="11" text-anchor="middle" textLength="13" lengthAdjust="spacingAndGlyphs" fill="#222" stroke="#fff" stroke-width="1.0" paint-order="stroke" opacity="0.35">M5</text><text x="449.8" y="403.4" font-family="Liberation Sans" font-weight="bold" font-size="11" text-anchor="middle" textLength="13" lengthAdjust="spacingAndGlyphs" fill="#111" stroke="#fff" stroke-width="0.7" stroke-opacity="0.75" paint-order="stroke">M5</text><text x="387.6" y="403.7" font-family="Liberation Sans" font-weight="bold" font-size="11" text-anchor="middle" textLength="13" lengthAdjust="spacingAndGlyphs" fill="#111" stroke="#fff" stroke-width="0.7" stroke-opacity="0.75" paint-order="stroke">M3</text><text x="101.0" y="403.6" font-family="Liberation Sans" font-weight="bold" font-size="11" text-anchor="middle" textLength="13" lengthAdjust="spacingAndGlyphs" fill="#111" stroke="#fff" stroke-width="0.7" stroke-opacity="0.75" paint-order="stroke">M5</text><text x="89.5" y="441.2" font-family="Liberation Sans" font-weight="bold" font-size="11" text-anchor="middle" textLength="13" lengthAdjust="spacingAndGlyphs" fill="#222" stroke="#fff" stroke-width="1.0" paint-order="stroke" opacity="0.35">M5</text><text x="157.6" y="388.6" font-family="Liberation Sans" font-weight="bold" font-size="11" text-anchor="middle" textLength="13" lengthAdjust="spacingAndGlyphs" fill="#222" stroke="#fff" stroke-width="1.0" paint-order="stroke" opacity="0.35">M1</text><text x="225.9" y="386.8" font-family="Liberation Sans" font-weight="bold" font-size="11" text-anchor="middle" textLength="13" lengthAdjust="spacingAndGlyphs" fill="#111" stroke="#fff" stroke-width="0.7" stroke-opacity="0.75" paint-order="stroke">M2</text><text x="208.8" y="430.2" font-family="Liberation Sans" font-weight="bold" font-size="11" text-anchor="middle" textLength="13" lengthAdjust="spacingAndGlyphs" fill="#111" stroke="#fff" stroke-width="0.7" stroke-opacity="0.75" paint-order="stroke">M4</text><text x="154.2" y="438.6" font-family="Liberation Sans" font-weight="bold" font-size="11" text-anchor="middle" textLength="13" lengthAdjust="spacingAndGlyphs" fill="#111" stroke="#fff" stroke-width="0.7" stroke-opacity="0.75" paint-order="stroke">M3</text><text x="195.7" y="464.2" font-family="Liberation Sans" font-weight="bold" font-size="11" text-anchor="middle" textLength="13" lengthAdjust="spacingAndGlyphs" fill="#222" stroke="#fff" stroke-width="1.0" paint-order="stroke" opacity="0.35">M1</text><text x="262.7" y="463.5" font-family="Liberation Sans" font-weight="bold" font-size="11" text-anchor="middle" textLength="13" lengthAdjust="spacingAndGlyphs" fill="#111" stroke="#fff" stroke-width="0.7" stroke-opacity="0.75" paint-order="stroke">M2</text><text x="330.9" y="412.2" font-family="Liberation Sans" font-weight="bold" font-size="11" text-anchor="middle" textLength="13" lengthAdjust="spacingAndGlyphs" fill="#c070a8" opacity="0.8">M4</text><text x="315.2" y="456.4" font-family="Liberation Sans" font-weight="bold" font-size="11" text-anchor="middle" textLength="13" lengthAdjust="spacingAndGlyphs" fill="#111" stroke="#fff" stroke-width="0.7" stroke-opacity="0.75" paint-order="stroke">M2</text><text x="383.5" y="456.4" font-family="Liberation Sans" font-weight="bold" font-size="11" text-anchor="middle" textLength="13" lengthAdjust="spacingAndGlyphs" fill="#111" stroke="#fff" stroke-width="0.7" stroke-opacity="0.75" paint-order="stroke">M1</text><text x="441.6" y="437.2" font-family="Liberation Sans" font-weight="bold" font-size="11" text-anchor="middle" textLength="13" lengthAdjust="spacingAndGlyphs" fill="#c070a8" opacity="0.8">M5</text><text x="139.2" y="480.2" font-family="Liberation Sans" font-weight="bold" font-size="11" text-anchor="middle" textLength="13" lengthAdjust="spacingAndGlyphs" fill="#111" stroke="#fff" stroke-width="0.7" stroke-opacity="0.75" paint-order="stroke">M5</text><text x="246.9" y="507.2" font-family="Liberation Sans" font-weight="bold" font-size="11" text-anchor="middle" textLength="13" lengthAdjust="spacingAndGlyphs" fill="#111" stroke="#fff" stroke-width="0.7" stroke-opacity="0.75" paint-order="stroke">M4</text><text x="370.3" y="489.4" font-family="Liberation Sans" font-weight="bold" font-size="11" text-anchor="middle" textLength="13" lengthAdjust="spacingAndGlyphs" fill="#c070a8" opacity="0.8">M4</text><text x="424.5" y="480.2" font-family="Liberation Sans" font-weight="bold" font-size="11" text-anchor="middle" textLength="13" lengthAdjust="spacingAndGlyphs" fill="#111" stroke="#fff" stroke-width="0.7" stroke-opacity="0.75" paint-order="stroke">M3</text><text x="488.9" y="480.2" font-family="Liberation Sans" font-weight="bold" font-size="11" text-anchor="middle" textLength="13" lengthAdjust="spacingAndGlyphs" fill="#111" stroke="#fff" stroke-width="0.7" stroke-opacity="0.75" paint-order="stroke">M5</text><path d="M43.5 544L31 519" stroke="#e81010" stroke-width="3"/><path d="M26.8 512L26 524.5L36.5 520Z" fill="#e81010"/>
<path d="M45 546.4H72" stroke="#0818e8" stroke-width="2.8"/><path d="M84 546.4L70 541.8V551Z" fill="#0818e8"/>
<circle cx="43.9" cy="548.2" r="4.5" fill="#2c2"/>
<text x="24.2" y="508" font-family="Liberation Sans" font-weight="bold" font-size="10" text-anchor="middle">a</text>
<text x="92.5" y="550" font-family="Liberation Sans" font-weight="bold" font-size="10" text-anchor="middle">c</text>
<text x="44" y="552" font-family="Liberation Sans" font-weight="bold" font-size="8" text-anchor="middle">b</text>
<text x="3.3" y="302.6" font-family="Liberation Serif" font-weight="bold" font-size="18">(b)</text></svg>

<svg width="533" height="555" viewBox="0 0 533 555" style="position:absolute;left:0;top:0">
<g class="ct" font-family="Liberation Serif" fill="#000" style="white-space:pre">
<defs><clipPath id="pc"><rect x="40.5" y="2" width="469" height="198.5"/></clipPath></defs>
<g clip-path="url(#pc)">
<path d="M40.7 167.1h0M40.9 166.9h0M41.0 167.5h0M41.2 166.8h0M41.4 167.4h0M41.6 167.2h0M41.8 166.8h0M42.0 167.4h0M42.1 166.8h0M42.3 167.3h0M42.5 166.8h0M42.7 166.8h0M42.9 167.2h0M43.1 167.7h0M43.2 166.9h0M43.4 167.0h0M43.6 167.5h0M43.8 167.9h0M44.0 167.4h0M44.1 167.2h0M44.3 167.9h0M44.5 166.8h0M44.7 167.8h0M44.9 167.1h0M45.1 166.9h0M45.2 166.9h0M45.4 167.1h0M45.6 167.7h0M45.8 166.9h0M46.0 167.4h0M46.2 167.5h0M46.3 167.2h0M46.5 167.4h0M46.7 166.8h0M46.9 166.8h0M47.1 166.9h0M47.3 167.5h0M47.4 167.2h0M47.6 167.1h0M47.8 167.4h0M48.0 167.2h0M48.2 167.0h0M48.4 167.6h0M48.5 167.5h0M48.7 167.0h0M48.9 167.4h0M49.1 167.3h0M49.3 167.7h0M49.4 167.5h0M49.6 167.0h0M49.8 167.8h0M50.0 166.8h0M50.2 167.1h0M50.4 167.5h0M50.5 166.8h0M50.7 167.2h0M50.9 166.6h0M51.1 167.4h0M51.3 167.5h0M51.5 167.2h0M51.6 167.6h0M51.8 166.9h0M52.0 167.4h0M52.2 167.2h0M52.4 167.2h0M52.6 167.0h0M52.7 167.5h0M52.9 167.6h0M53.1 167.0h0M53.3 167.2h0M53.5 166.5h0M53.7 167.2h0M53.8 167.1h0M54.0 167.5h0M54.2 167.3h0M54.4 166.6h0M54.6 166.7h0M54.8 167.0h0M54.9 166.2h0M55.1 166.7h0M55.3 166.3h0M55.5 166.2h0M55.7 166.1h0M55.8 166.9h0M56.0 166.1h0M56.2 166.2h0M56.4 166.3h0M56.6 166.8h0M56.8 165.8h0M56.9 166.1h0M57.1 166.2h0M57.3 166.5h0M57.5 166.3h0M57.7 166.2h0M57.9 165.4h0M58.0 165.4h0M58.2 165.2h0M58.4 165.6h0M58.6 165.5h0M58.8 164.3h0M59.0 164.0h0M59.1 163.7h0M59.3 163.4h0M59.5 163.2h0M59.7 162.8h0M59.9 161.8h0M60.1 160.8h0M60.2 160.4h0M60.4 159.2h0M60.6 157.9h0M60.8 156.5h0M61.0 153.5h0M61.1 149.5h0M61.3 144.3h0M61.5 136.9h0M61.7 125.9h0M61.9 113.6h0M62.1 97.2h0M62.2 79.8h0M62.4 65.0h0M62.6 58.6h0M62.8 64.6h0M63.0 78.9h0M63.2 97.0h0M63.3 112.6h0M63.5 125.9h0M63.7 136.3h0M63.9 143.8h0M64.1 149.3h0M64.3 152.7h0M64.4 155.3h0M64.6 157.4h0M64.8 158.8h0M65.0 160.3h0M65.2 160.8h0M65.4 162.5h0M65.5 162.8h0M65.7 162.8h0M65.9 163.3h0M66.1 163.8h0M66.3 164.2h0M66.4 164.2h0M66.6 165.3h0M66.8 165.7h0M67.0 165.2h0M67.2 165.4h0M67.4 165.1h0M67.5 165.2h0M67.7 165.6h0M67.9 165.6h0M68.1 166.4h0M68.3 165.7h0M68.5 165.6h0M68.6 166.8h0M68.8 166.3h0M69.0 165.9h0M69.2 166.4h0M69.4 165.8h0M69.6 166.5h0M69.7 167.1h0M69.9 166.9h0M70.1 166.8h0M70.3 166.3h0M70.5 166.4h0M70.7 166.2h0M70.8 166.9h0M71.0 166.7h0M71.2 167.0h0M71.4 166.4h0M71.6 166.3h0M71.8 167.0h0M71.9 167.2h0M72.1 167.0h0M72.3 167.0h0M72.5 167.0h0M72.7 166.9h0M72.8 166.2h0M73.0 166.6h0M73.2 166.3h0M73.4 165.9h0M73.6 165.9h0M73.8 166.1h0M73.9 166.1h0M74.1 166.5h0M74.3 166.8h0M74.5 166.1h0M74.7 166.7h0M74.9 166.6h0M75.0 166.5h0M75.2 165.7h0M75.4 165.4h0M75.6 165.3h0M75.8 165.1h0M76.0 165.0h0M76.1 165.3h0M76.3 165.5h0M76.5 165.2h0M76.7 164.5h0M76.9 164.4h0M77.1 164.2h0M77.2 162.9h0M77.4 163.1h0M77.6 162.9h0M77.8 162.0h0M78.0 161.1h0M78.1 159.8h0M78.3 158.1h0M78.5 157.1h0M78.7 154.3h0M78.9 151.6h0M79.1 147.3h0M79.2 140.1h0M79.4 131.1h0M79.6 119.7h0M79.8 104.2h0M80.0 85.9h0M80.2 68.7h0M80.3 57.4h0M80.5 58.3h0M80.7 69.5h0M80.9 85.9h0M81.1 104.4h0M81.3 119.8h0M81.4 131.4h0M81.6 140.1h0M81.8 146.8h0M82.0 150.9h0M82.2 154.0h0M82.4 157.4h0M82.5 158.7h0M82.7 159.9h0M82.9 161.4h0M83.1 161.7h0M83.3 162.9h0M83.5 163.4h0M83.6 163.2h0M83.8 163.7h0M84.0 164.1h0M84.2 164.3h0M84.4 165.0h0M84.5 164.8h0M84.7 165.2h0M84.9 165.1h0M85.1 166.2h0M85.3 165.6h0M85.5 165.9h0M85.6 166.2h0M85.8 166.7h0M86.0 166.2h0M86.2 166.8h0M86.4 166.4h0M86.6 166.5h0M86.7 166.6h0M86.9 166.0h0M87.1 166.6h0M87.3 166.3h0M87.5 166.2h0M87.7 167.2h0M87.8 166.4h0M88.0 166.8h0M88.2 167.2h0M88.4 167.0h0M88.6 166.7h0M88.8 167.0h0M88.9 167.0h0M89.1 167.3h0M89.3 166.5h0M89.5 167.1h0M89.7 166.7h0M89.8 166.8h0M90.0 167.3h0M90.2 167.0h0M90.4 167.1h0M90.6 167.3h0M90.8 167.5h0M90.9 166.9h0M91.1 167.1h0M91.3 166.9h0M91.5 166.9h0M91.7 167.0h0M91.9 166.7h0M92.0 166.7h0M92.2 166.5h0M92.4 167.0h0M92.6 166.5h0M92.8 166.6h0M93.0 166.5h0M93.1 165.5h0M93.3 165.6h0M93.5 165.8h0M93.7 165.3h0M93.9 164.2h0M94.1 163.8h0M94.2 163.9h0M94.4 163.2h0M94.6 163.1h0M94.8 162.7h0M95.0 163.3h0M95.1 163.4h0M95.3 163.7h0M95.5 163.0h0M95.7 163.9h0M95.9 164.2h0M96.1 163.9h0M96.2 165.1h0M96.4 165.6h0M96.6 165.0h0M96.8 166.1h0M97.0 165.7h0M97.2 166.0h0M97.3 166.8h0M97.5 166.8h0M97.7 166.1h0M97.9 166.6h0M98.1 166.8h0M98.3 166.7h0M98.4 166.6h0M98.6 166.8h0M98.8 167.3h0M99.0 166.5h0M99.2 167.2h0M99.4 167.1h0M99.5 166.6h0M99.7 167.0h0M99.9 167.4h0M100.1 167.2h0M100.3 166.7h0M100.5 167.8h0M100.6 167.6h0M100.8 167.8h0M101.0 166.7h0M101.2 166.9h0M101.4 166.6h0M101.5 167.5h0M101.7 166.9h0M101.9 166.7h0M102.1 167.0h0M102.3 167.5h0M102.5 167.4h0M102.6 166.6h0M102.8 166.4h0M103.0 167.3h0M103.2 166.8h0M103.4 166.8h0M103.6 165.9h0M103.7 165.7h0M103.9 166.3h0M104.1 165.7h0M104.3 165.0h0M104.5 165.6h0M104.7 164.8h0M104.8 164.2h0M105.0 162.4h0M105.2 161.9h0M105.4 158.9h0M105.6 157.1h0M105.8 153.0h0M105.9 148.5h0M106.1 144.0h0M106.3 140.5h0M106.5 138.1h0M106.7 139.5h0M106.8 144.0h0M107.0 148.4h0M107.2 152.6h0M107.4 156.2h0M107.6 158.8h0M107.8 161.0h0M107.9 162.6h0M108.1 163.6h0M108.3 164.8h0M108.5 164.8h0M108.7 165.4h0M108.9 165.3h0M109.0 165.7h0M109.2 165.5h0M109.4 166.0h0M109.6 165.8h0M109.8 166.8h0M110.0 166.6h0M110.1 166.2h0M110.3 166.6h0M110.5 167.2h0M110.7 166.2h0M110.9 167.1h0M111.1 166.6h0M111.2 166.7h0M111.4 167.1h0M111.6 166.5h0M111.8 166.6h0M112.0 166.8h0M112.1 167.1h0M112.3 166.2h0M112.5 166.7h0M112.7 166.4h0M112.9 166.2h0M113.1 165.8h0M113.2 165.5h0M113.4 164.9h0M113.6 164.7h0M113.8 164.3h0M114.0 164.6h0M114.2 163.5h0M114.3 162.7h0M114.5 161.6h0M114.7 161.2h0M114.9 159.4h0M115.1 156.5h0M115.3 152.3h0M115.4 147.2h0M115.6 140.6h0M115.8 132.7h0M116.0 123.6h0M116.2 116.6h0M116.4 113.5h0M116.5 117.3h0M116.7 124.6h0M116.9 132.8h0M117.1 140.6h0M117.3 148.1h0M117.5 152.4h0M117.6 156.2h0M117.8 158.4h0M118.0 160.8h0M118.2 162.2h0M118.4 163.2h0M118.5 163.6h0M118.7 164.5h0M118.9 164.4h0M119.1 165.0h0M119.3 165.2h0M119.5 165.8h0M119.6 165.6h0M119.8 165.7h0M120.0 166.2h0M120.2 166.3h0M120.4 166.8h0M120.6 166.9h0M120.7 167.3h0M120.9 167.2h0M121.1 167.4h0M121.3 167.6h0M121.5 167.1h0M121.7 167.1h0M121.8 167.9h0M122.0 167.0h0M122.2 167.7h0M122.4 167.6h0M122.6 166.9h0M122.8 167.9h0M122.9 168.0h0M123.1 167.7h0M123.3 167.9h0M123.5 168.0h0M123.7 167.2h0M123.8 167.7h0M124.0 167.7h0M124.2 168.1h0M124.4 168.1h0M124.6 168.1h0M124.8 167.8h0M124.9 168.2h0M125.1 167.9h0M125.3 167.9h0M125.5 167.4h0M125.7 167.1h0M125.9 167.3h0M126.0 167.5h0M126.2 167.2h0M126.4 168.1h0M126.6 167.7h0M126.8 167.8h0M127.0 167.8h0M127.1 167.8h0M127.3 167.6h0M127.5 167.0h0M127.7 167.9h0M127.9 167.8h0M128.1 167.4h0M128.2 167.4h0M128.4 167.5h0M128.6 166.7h0M128.8 167.4h0M129.0 166.7h0M129.2 166.3h0M129.3 166.3h0M129.5 166.7h0M129.7 165.7h0M129.9 166.1h0M130.1 166.0h0M130.2 164.9h0M130.4 164.3h0M130.6 163.9h0M130.8 163.6h0M131.0 163.2h0M131.2 162.5h0M131.3 162.2h0M131.5 161.3h0M131.7 161.4h0M131.9 161.7h0M132.1 162.7h0M132.3 162.7h0M132.4 163.5h0M132.6 163.4h0M132.8 164.0h0M133.0 164.7h0M133.2 165.7h0M133.4 166.1h0M133.5 166.4h0M133.7 166.2h0M133.9 166.7h0M134.1 166.9h0M134.3 167.0h0M134.5 166.8h0M134.6 167.8h0M134.8 167.1h0M135.0 168.1h0M135.2 168.1h0M135.4 167.1h0M135.5 167.7h0M135.7 168.1h0M135.9 168.4h0M136.1 167.8h0M136.3 167.6h0M136.5 167.5h0M136.6 168.4h0M136.8 167.6h0M137.0 168.0h0M137.2 167.5h0M137.4 168.0h0M137.6 168.5h0M137.7 167.6h0M137.9 168.4h0M138.1 168.1h0M138.3 168.5h0M138.5 168.3h0M138.7 167.8h0M138.8 168.6h0M139.0 168.1h0M139.2 167.5h0M139.4 167.5h0M139.6 168.1h0M139.8 168.1h0M139.9 167.9h0M140.1 167.7h0M140.3 167.9h0M140.5 167.9h0M140.7 168.5h0M140.8 167.5h0M141.0 168.4h0M141.2 168.5h0M141.4 167.7h0M141.6 168.7h0M141.8 168.4h0M141.9 168.6h0M142.1 167.9h0M142.3 168.0h0M142.5 168.0h0M142.7 168.7h0M142.9 168.2h0M143.0 168.0h0M143.2 168.0h0M143.4 167.9h0M143.6 167.6h0M143.8 167.6h0M144.0 168.5h0M144.1 167.8h0M144.3 168.6h0M144.5 167.8h0M144.7 167.8h0M144.9 168.1h0M145.1 167.7h0M145.2 167.9h0M145.4 168.6h0M145.6 168.5h0M145.8 168.4h0M146.0 168.1h0M146.2 168.5h0M146.3 168.5h0M146.5 168.0h0M146.7 168.2h0M146.9 167.3h0M147.1 168.1h0M147.2 167.7h0M147.4 168.1h0M147.6 167.9h0M147.8 167.4h0M148.0 167.0h0M148.2 168.0h0M148.3 167.0h0M148.5 167.3h0M148.7 167.1h0M148.9 166.9h0M149.1 167.3h0M149.3 167.4h0M149.4 166.4h0M149.6 166.6h0M149.8 165.9h0M150.0 165.9h0M150.2 165.2h0M150.4 164.3h0M150.5 163.5h0M150.7 162.5h0M150.9 161.9h0M151.1 159.4h0M151.3 156.4h0M151.5 153.9h0M151.6 150.1h0M151.8 145.2h0M152.0 140.9h0M152.2 138.5h0M152.4 138.3h0M152.5 141.1h0M152.7 144.7h0M152.9 149.2h0M153.1 153.1h0M153.3 156.8h0M153.5 159.8h0M153.6 161.6h0M153.8 162.7h0M154.0 163.8h0M154.2 164.7h0M154.4 165.1h0M154.6 165.5h0M154.7 165.5h0M154.9 166.1h0M155.1 167.1h0M155.3 166.3h0M155.5 166.9h0M155.7 167.1h0M155.8 167.5h0M156.0 166.8h0M156.2 166.9h0M156.4 167.0h0M156.6 167.2h0M156.8 167.3h0M156.9 167.9h0M157.1 167.7h0M157.3 167.7h0M157.5 166.6h0M157.7 166.6h0M157.8 167.3h0M158.0 167.4h0M158.2 166.7h0M158.4 166.6h0M158.6 165.7h0M158.8 165.9h0M158.9 166.3h0M159.1 165.8h0M159.3 165.6h0M159.5 165.5h0M159.7 164.4h0M159.9 164.1h0M160.0 164.2h0M160.2 164.7h0M160.4 165.2h0M160.6 165.8h0M160.8 165.8h0M161.0 166.0h0M161.1 166.5h0M161.3 166.4h0M161.5 166.8h0M161.7 166.4h0M161.9 167.5h0M162.1 167.0h0M162.2 167.9h0M162.4 167.7h0M162.6 167.4h0M162.8 167.3h0M163.0 167.5h0M163.2 168.0h0M163.3 168.1h0M163.5 167.4h0M163.7 167.4h0M163.9 168.0h0M164.1 168.0h0M164.2 167.8h0M164.4 167.6h0M164.6 168.1h0M164.8 167.4h0M165.0 167.7h0M165.2 167.9h0M165.3 168.4h0M165.5 168.0h0M165.7 168.3h0M165.9 167.8h0M166.1 167.4h0M166.3 167.4h0M166.4 168.2h0M166.6 167.8h0M166.8 167.2h0M167.0 166.8h0M167.2 167.2h0M167.4 167.3h0M167.5 166.8h0M167.7 166.3h0M167.9 166.5h0M168.1 166.4h0M168.3 164.9h0M168.5 163.9h0M168.6 163.2h0M168.8 161.8h0M169.0 160.2h0M169.2 157.2h0M169.4 155.0h0M169.5 151.8h0M169.7 148.6h0M169.9 146.4h0M170.1 147.4h0M170.3 148.4h0M170.5 151.9h0M170.6 154.4h0M170.8 157.2h0M171.0 160.3h0M171.2 161.7h0M171.4 164.0h0M171.6 164.5h0M171.7 165.0h0M171.9 165.6h0M172.1 166.3h0M172.3 166.9h0M172.5 167.5h0M172.7 166.8h0M172.8 167.2h0M173.0 167.2h0M173.2 168.2h0M173.4 167.3h0M173.6 167.3h0M173.8 167.4h0M173.9 167.8h0M174.1 168.5h0M174.3 168.5h0M174.5 168.4h0M174.7 168.8h0M174.9 168.7h0M175.0 168.0h0M175.2 167.9h0M175.4 168.8h0M175.6 168.6h0M175.8 167.8h0M175.9 168.6h0M176.1 168.2h0M176.3 168.3h0M176.5 168.2h0M176.7 168.0h0M176.9 167.9h0M177.0 168.2h0M177.2 168.3h0M177.4 169.0h0M177.6 168.0h0M177.8 169.1h0M178.0 168.2h0M178.1 168.4h0M178.3 168.9h0M178.5 168.9h0M178.7 168.5h0M178.9 168.0h0M179.1 168.5h0M179.2 168.4h0M179.4 169.1h0M179.6 168.2h0M179.8 168.4h0M180.0 169.1h0M180.2 168.0h0M180.3 168.5h0M180.5 169.0h0M180.7 168.9h0M180.9 168.0h0M181.1 168.0h0M181.2 168.1h0M181.4 169.1h0M181.6 168.3h0M181.8 168.9h0M182.0 169.1h0M182.2 168.4h0M182.3 168.3h0M182.5 169.1h0M182.7 168.7h0M182.9 168.3h0M183.1 168.8h0M183.3 168.4h0M183.4 168.3h0M183.6 168.0h0M183.8 168.9h0M184.0 169.1h0M184.2 168.7h0M184.4 169.1h0M184.5 168.0h0M184.7 168.2h0M184.9 168.5h0M185.1 169.0h0M185.3 169.0h0M185.5 168.3h0M185.6 168.1h0M185.8 168.3h0M186.0 168.4h0M186.2 168.9h0M186.4 168.0h0M186.5 168.7h0M186.7 168.5h0M186.9 168.6h0M187.1 168.5h0M187.3 168.2h0M187.5 167.8h0M187.6 167.7h0M187.8 167.7h0M188.0 168.1h0M188.2 167.1h0M188.4 167.1h0M188.6 167.6h0M188.7 166.7h0M188.9 166.2h0M189.1 165.7h0M189.3 165.8h0M189.5 164.8h0M189.7 164.6h0M189.8 163.3h0M190.0 161.8h0M190.2 159.1h0M190.4 156.8h0M190.6 154.6h0M190.8 153.2h0M190.9 152.3h0M191.1 152.0h0M191.3 152.9h0M191.5 155.0h0M191.7 157.5h0M191.9 159.6h0M192.0 161.6h0M192.2 163.2h0M192.4 164.3h0M192.6 164.6h0M192.8 166.2h0M192.9 166.1h0M193.1 166.8h0M193.3 166.9h0M193.5 167.6h0M193.7 167.1h0M193.9 167.4h0M194.0 167.5h0M194.2 167.5h0M194.4 168.5h0M194.6 168.2h0M194.8 167.9h0M195.0 168.1h0M195.1 168.9h0M195.3 168.3h0M195.5 168.0h0M195.7 168.8h0M195.9 168.6h0M196.1 169.0h0M196.2 168.0h0M196.4 168.4h0M196.6 168.9h0M196.8 168.9h0M197.0 169.0h0M197.2 168.0h0M197.3 168.3h0M197.5 168.1h0M197.7 168.1h0M197.9 169.1h0M198.1 168.6h0M198.2 169.0h0M198.4 168.3h0M198.6 168.8h0M198.8 168.3h0M199.0 168.0h0M199.2 168.5h0M199.3 168.6h0M199.5 167.5h0M199.7 167.9h0M199.9 167.8h0M200.1 167.2h0M200.3 167.2h0M200.4 166.7h0M200.6 166.7h0M200.8 166.6h0M201.0 167.0h0M201.2 167.0h0M201.4 166.6h0M201.5 166.5h0M201.7 167.0h0M201.9 167.6h0M202.1 167.2h0M202.3 167.5h0M202.5 167.6h0M202.6 168.4h0M202.8 168.2h0M203.0 167.8h0M203.2 167.9h0M203.4 168.3h0M203.5 168.6h0M203.7 168.8h0M203.9 168.2h0M204.1 168.3h0M204.3 169.0h0M204.5 168.6h0M204.6 168.5h0M204.8 168.6h0M205.0 169.4h0M205.2 168.6h0M205.4 168.9h0M205.6 168.7h0M205.7 168.8h0M205.9 169.3h0M206.1 169.5h0M206.3 168.7h0M206.5 168.6h0M206.7 169.2h0M206.8 168.6h0M207.0 168.3h0M207.2 169.4h0M207.4 168.9h0M207.6 169.3h0M207.8 168.9h0M207.9 169.4h0M208.1 168.9h0M208.3 168.6h0M208.5 168.4h0M208.7 169.1h0M208.9 169.2h0M209.0 169.5h0M209.2 168.5h0M209.4 169.2h0M209.6 168.9h0M209.8 169.0h0M209.9 168.6h0M210.1 168.8h0M210.3 169.1h0M210.5 169.5h0M210.7 168.6h0M210.9 169.0h0M211.0 169.4h0M211.2 169.6h0M211.4 168.7h0M211.6 168.6h0M211.8 169.6h0M212.0 169.6h0M212.1 169.0h0M212.3 168.5h0M212.5 169.6h0M212.7 168.9h0M212.9 169.5h0M213.1 169.2h0M213.2 169.4h0M213.4 168.7h0M213.6 169.4h0M213.8 168.7h0M214.0 168.9h0M214.2 169.5h0M214.3 169.5h0M214.5 168.7h0M214.7 168.7h0M214.9 168.9h0M215.1 169.1h0M215.2 168.9h0M215.4 168.6h0M215.6 168.7h0M215.8 169.3h0M216.0 169.5h0M216.2 168.5h0M216.3 169.1h0M216.5 169.3h0M216.7 168.5h0M216.9 169.4h0M217.1 168.5h0M217.3 169.1h0M217.4 169.0h0M217.6 169.1h0M217.8 168.7h0M218.0 168.8h0M218.2 168.9h0M218.4 168.7h0M218.5 168.9h0M218.7 168.6h0M218.9 168.5h0M219.1 167.9h0M219.3 168.5h0M219.5 168.2h0M219.6 167.8h0M219.8 168.4h0M220.0 168.3h0M220.2 167.9h0M220.4 167.6h0M220.6 167.9h0M220.7 167.6h0M220.9 167.7h0M221.1 168.2h0M221.3 167.9h0M221.5 168.4h0M221.6 168.6h0M221.8 168.1h0M222.0 168.9h0M222.2 168.3h0M222.4 169.1h0M222.6 169.2h0M222.7 169.0h0M222.9 168.5h0M223.1 169.0h0M223.3 168.9h0M223.5 169.6h0M223.7 168.6h0M223.8 169.5h0M224.0 169.7h0M224.2 169.4h0M224.4 169.5h0M224.6 168.8h0M224.8 169.7h0M224.9 169.1h0M225.1 169.7h0M225.3 169.7h0M225.5 168.8h0M225.7 169.5h0M225.9 169.7h0M226.0 168.7h0M226.2 169.0h0M226.4 169.5h0M226.6 168.8h0M226.8 169.7h0M226.9 168.9h0M227.1 169.6h0M227.3 168.8h0M227.5 169.2h0M227.7 169.7h0M227.9 168.9h0M228.0 168.9h0M228.2 169.2h0M228.4 169.0h0M228.6 168.7h0M228.8 168.9h0M229.0 168.8h0M229.1 169.8h0M229.3 169.5h0M229.5 169.7h0M229.7 168.9h0M229.9 169.6h0M230.1 168.8h0M230.2 169.3h0M230.4 169.4h0M230.6 169.1h0M230.8 169.7h0M231.0 169.3h0M231.2 169.4h0M231.3 169.7h0M231.5 168.8h0M231.7 169.9h0M231.9 169.4h0M232.1 169.1h0M232.2 169.6h0M232.4 169.0h0M232.6 169.9h0M232.8 169.4h0M233.0 169.1h0M233.2 169.6h0M233.3 169.2h0M233.5 168.9h0M233.7 169.6h0M233.9 168.7h0M234.1 169.7h0M234.3 169.0h0M234.4 169.5h0M234.6 169.9h0M234.8 169.4h0M235.0 169.5h0M235.2 169.1h0M235.4 168.7h0M235.5 168.7h0M235.7 168.9h0M235.9 169.4h0M236.1 169.2h0M236.3 169.3h0M236.5 169.8h0M236.6 168.9h0M236.8 169.0h0M237.0 169.5h0M237.2 168.7h0M237.4 168.7h0M237.6 169.1h0M237.7 168.8h0M237.9 169.1h0M238.1 169.0h0M238.3 169.4h0M238.5 169.4h0M238.6 168.9h0M238.8 169.4h0M239.0 169.3h0M239.2 168.9h0M239.4 169.8h0M239.6 169.0h0M239.7 168.9h0M239.9 168.8h0M240.1 169.4h0M240.3 169.7h0M240.5 169.6h0M240.7 169.1h0M240.8 169.0h0M241.0 168.6h0M241.2 169.4h0M241.4 169.3h0M241.6 169.0h0M241.8 169.3h0M241.9 169.0h0M242.1 169.6h0M242.3 169.3h0M242.5 168.6h0M242.7 169.4h0M242.9 168.3h0M243.0 168.8h0M243.2 168.5h0M243.4 168.2h0M243.6 168.0h0M243.8 168.8h0M243.9 167.8h0M244.1 168.5h0M244.3 169.0h0M244.5 168.1h0M244.7 168.2h0M244.9 168.8h0M245.0 168.7h0M245.2 169.0h0M245.4 169.3h0M245.6 168.6h0M245.8 168.8h0M246.0 168.8h0M246.1 168.6h0M246.3 169.6h0M246.5 169.5h0M246.7 169.5h0M246.9 168.6h0M247.1 169.7h0M247.2 169.6h0M247.4 169.2h0M247.6 169.6h0M247.8 169.2h0M248.0 169.0h0M248.2 168.8h0M248.3 169.0h0M248.5 168.8h0M248.7 169.1h0M248.9 169.6h0M249.1 169.6h0M249.2 169.7h0M249.4 169.6h0M249.6 169.0h0M249.8 169.4h0M250.0 169.3h0M250.2 169.7h0M250.3 169.4h0M250.5 169.1h0M250.7 169.5h0M250.9 169.9h0M251.1 169.0h0M251.3 169.8h0M251.4 168.7h0M251.6 169.0h0M251.8 169.0h0M252.0 169.6h0M252.2 169.9h0M252.4 169.6h0M252.5 169.1h0M252.7 169.8h0M252.9 169.1h0M253.1 169.0h0M253.3 169.8h0M253.5 169.4h0M253.6 169.5h0M253.8 169.5h0M254.0 169.8h0M254.2 169.2h0M254.4 169.7h0M254.6 169.5h0M254.7 169.7h0M254.9 169.1h0M255.1 169.5h0M255.3 169.3h0M255.5 168.9h0M255.6 168.8h0M255.8 169.3h0M256.0 168.6h0M256.2 169.6h0M256.4 168.6h0M256.6 168.5h0M256.7 168.5h0M256.9 169.5h0M257.1 168.7h0M257.3 168.4h0M257.5 168.3h0M257.7 168.2h0M257.8 168.9h0M258.0 168.8h0M258.2 168.8h0M258.4 168.7h0M258.6 167.8h0M258.8 168.3h0M258.9 167.8h0M259.1 168.1h0M259.3 167.8h0M259.5 167.5h0M259.7 166.0h0M259.9 166.3h0M260.0 165.5h0M260.2 164.3h0M260.4 161.9h0M260.6 160.3h0M260.8 158.2h0M260.9 156.1h0M261.1 155.3h0M261.3 154.2h0M261.5 154.0h0M261.7 155.3h0M261.9 156.8h0M262.0 158.4h0M262.2 160.1h0M262.4 161.8h0M262.6 164.0h0M262.8 164.5h0M263.0 165.5h0M263.1 166.3h0M263.3 166.3h0M263.5 166.9h0M263.7 167.3h0M263.9 168.0h0M264.1 167.7h0M264.2 167.8h0M264.4 168.7h0M264.6 168.2h0M264.8 168.6h0M265.0 168.4h0M265.2 167.7h0M265.3 168.2h0M265.5 168.2h0M265.7 168.6h0M265.9 168.1h0M266.1 168.5h0M266.3 168.2h0M266.4 167.8h0M266.6 168.5h0M266.8 167.5h0M267.0 168.3h0M267.2 167.4h0M267.3 167.0h0M267.5 167.1h0M267.7 167.5h0M267.9 167.5h0M268.1 166.0h0M268.3 166.2h0M268.4 165.6h0M268.6 165.2h0M268.8 163.5h0M269.0 162.6h0M269.2 160.7h0M269.4 159.1h0M269.5 155.7h0M269.7 153.2h0M269.9 148.6h0M270.1 144.7h0M270.3 141.9h0M270.5 139.6h0M270.6 139.1h0M270.8 141.8h0M271.0 144.5h0M271.2 149.3h0M271.4 152.9h0M271.6 156.3h0M271.7 158.9h0M271.9 160.8h0M272.1 162.5h0M272.3 163.8h0M272.5 165.4h0M272.6 165.2h0M272.8 166.7h0M273.0 166.1h0M273.2 166.7h0M273.4 167.0h0M273.6 168.0h0M273.7 167.7h0M273.9 167.8h0M274.1 168.5h0M274.3 167.9h0M274.5 168.2h0M274.7 168.4h0M274.8 168.8h0M275.0 168.8h0M275.2 168.7h0M275.4 168.4h0M275.6 168.5h0M275.8 168.3h0M275.9 169.2h0M276.1 169.0h0M276.3 169.1h0M276.5 168.4h0M276.7 168.8h0M276.9 169.2h0M277.0 168.9h0M277.2 168.4h0M277.4 168.8h0M277.6 169.3h0M277.8 168.5h0M277.9 168.5h0M278.1 168.6h0M278.3 169.0h0M278.5 169.2h0M278.7 168.3h0M278.9 168.3h0M279.0 168.4h0M279.2 168.4h0M279.4 168.6h0M279.6 168.1h0M279.8 168.2h0M280.0 168.0h0M280.1 168.8h0M280.3 168.4h0M280.5 167.5h0M280.7 168.4h0M280.9 167.1h0M281.1 167.2h0M281.2 167.5h0M281.4 166.9h0M281.6 166.3h0M281.8 165.2h0M282.0 164.2h0M282.2 163.8h0M282.3 162.1h0M282.5 161.0h0M282.7 160.0h0M282.9 158.4h0M283.1 157.8h0M283.3 157.7h0M283.4 157.5h0M283.6 157.6h0M283.8 158.5h0M284.0 159.2h0M284.2 159.7h0M284.3 161.1h0M284.5 161.5h0M284.7 162.3h0M284.9 162.7h0M285.1 162.1h0M285.3 162.1h0M285.4 162.0h0M285.6 161.3h0M285.8 160.7h0M286.0 161.2h0M286.2 161.5h0M286.4 161.8h0M286.5 162.4h0M286.7 163.3h0M286.9 163.8h0M287.1 164.5h0M287.3 164.9h0M287.5 165.3h0M287.6 166.1h0M287.8 165.8h0M288.0 166.4h0M288.2 167.1h0M288.4 167.1h0M288.6 167.1h0M288.7 166.6h0M288.9 166.8h0M289.1 166.8h0M289.3 166.8h0M289.5 166.4h0M289.6 166.5h0M289.8 166.5h0M290.0 165.2h0M290.2 165.2h0M290.4 164.6h0M290.6 163.2h0M290.7 162.1h0M290.9 161.0h0M291.1 157.6h0M291.3 155.4h0M291.5 151.3h0M291.7 147.7h0M291.8 143.0h0M292.0 137.4h0M292.2 132.5h0M292.4 130.4h0M292.6 130.3h0M292.8 133.2h0M292.9 137.5h0M293.1 142.8h0M293.3 147.9h0M293.5 151.9h0M293.7 155.4h0M293.9 159.0h0M294.0 160.3h0M294.2 162.6h0M294.4 163.6h0M294.6 165.0h0M294.8 165.0h0M294.9 166.6h0M295.1 166.3h0M295.3 166.4h0M295.5 166.9h0M295.7 167.3h0M295.9 167.1h0M296.0 167.8h0M296.2 167.9h0M296.4 168.4h0M296.6 168.1h0M296.8 168.1h0M297.0 168.2h0M297.1 168.9h0M297.3 169.2h0M297.5 168.8h0M297.7 168.5h0M297.9 169.2h0M298.1 168.8h0M298.2 168.6h0M298.4 168.5h0M298.6 169.3h0M298.8 169.3h0M299.0 169.1h0M299.2 168.9h0M299.3 169.0h0M299.5 168.5h0M299.7 169.3h0M299.9 168.5h0M300.1 168.8h0M300.3 168.9h0M300.4 168.7h0M300.6 168.2h0M300.8 167.8h0M301.0 167.9h0M301.2 167.3h0M301.3 168.0h0M301.5 167.4h0M301.7 168.0h0M301.9 167.4h0M302.1 167.7h0M302.3 167.7h0M302.4 168.1h0M302.6 168.0h0M302.8 168.0h0M303.0 169.0h0M303.2 168.6h0M303.4 168.7h0M303.5 168.9h0M303.7 169.2h0M303.9 169.2h0M304.1 169.5h0M304.3 169.6h0M304.5 169.3h0M304.6 170.1h0M304.8 170.0h0M305.0 169.1h0M305.2 170.0h0M305.4 170.2h0M305.6 170.0h0M305.7 169.3h0M305.9 170.1h0M306.1 169.9h0M306.3 169.2h0M306.5 169.2h0M306.6 170.3h0M306.8 170.0h0M307.0 169.5h0M307.2 169.3h0M307.4 169.4h0M307.6 169.5h0M307.7 170.2h0M307.9 169.7h0M308.1 169.5h0M308.3 170.4h0M308.5 170.2h0M308.7 169.5h0M308.8 170.4h0M309.0 170.0h0M309.2 170.3h0M309.4 170.1h0M309.6 170.4h0M309.8 170.3h0M309.9 170.3h0M310.1 169.6h0M310.3 170.2h0M310.5 170.0h0M310.7 170.2h0M310.9 169.9h0M311.0 170.4h0M311.2 170.0h0M311.4 169.7h0M311.6 169.7h0M311.8 169.6h0M312.0 170.0h0M312.1 169.5h0M312.3 170.0h0M312.5 169.6h0M312.7 170.0h0M312.9 170.0h0M313.0 170.1h0M313.2 170.5h0M313.4 169.4h0M313.6 170.4h0M313.8 170.0h0M314.0 170.1h0M314.1 170.2h0M314.3 170.4h0M314.5 169.9h0M314.7 169.9h0M314.9 170.6h0M315.1 169.5h0M315.2 170.2h0M315.4 170.2h0M315.6 169.5h0M315.8 170.2h0M316.0 170.3h0M316.2 170.6h0M316.3 169.9h0M316.5 170.7h0M316.7 170.1h0M316.9 170.1h0M317.1 170.6h0M317.3 169.5h0M317.4 170.4h0M317.6 170.2h0M317.8 169.9h0M318.0 170.5h0M318.2 169.9h0M318.3 170.1h0M318.5 170.1h0M318.7 170.4h0M318.9 169.8h0M319.1 170.0h0M319.3 170.0h0M319.4 170.2h0M319.6 170.5h0M319.8 169.9h0M320.0 170.5h0M320.2 170.0h0M320.4 170.1h0M320.5 169.9h0M320.7 170.1h0M320.9 170.7h0M321.1 170.3h0M321.3 170.5h0M321.5 169.9h0M321.6 169.9h0M321.8 169.9h0M322.0 170.3h0M322.2 170.3h0M322.4 170.5h0M322.6 169.6h0M322.7 170.4h0M322.9 170.6h0M323.1 170.2h0M323.3 169.6h0M323.5 169.9h0M323.6 169.6h0M323.8 169.8h0M324.0 170.7h0M324.2 170.3h0M324.4 170.4h0M324.6 170.5h0M324.7 170.7h0M324.9 170.3h0M325.1 170.3h0M325.3 170.3h0M325.5 170.4h0M325.7 170.3h0M325.8 170.4h0M326.0 169.8h0M326.2 170.4h0M326.4 170.1h0M326.6 170.5h0M326.8 169.7h0M326.9 169.8h0M327.1 169.6h0M327.3 170.5h0M327.5 170.7h0M327.7 170.4h0M327.9 170.0h0M328.0 170.6h0M328.2 170.5h0M328.4 170.3h0M328.6 169.9h0M328.8 170.0h0M329.0 170.1h0M329.1 170.0h0M329.3 170.1h0M329.5 170.4h0M329.7 170.7h0M329.9 169.7h0M330.0 170.3h0M330.2 169.7h0M330.4 169.8h0M330.6 170.6h0M330.8 170.3h0M331.0 170.7h0M331.1 170.1h0M331.3 169.6h0M331.5 170.1h0M331.7 170.3h0M331.9 170.7h0M332.1 170.8h0M332.2 170.2h0M332.4 170.1h0M332.6 169.7h0M332.8 170.4h0M333.0 169.9h0M333.2 169.8h0M333.3 169.6h0M333.5 169.6h0M333.7 170.4h0M333.9 169.7h0M334.1 170.7h0M334.3 169.7h0M334.4 170.6h0M334.6 169.7h0M334.8 169.6h0M335.0 170.4h0M335.2 169.8h0M335.3 170.4h0M335.5 169.8h0M335.7 169.6h0M335.9 170.4h0M336.1 170.4h0M336.3 170.5h0M336.4 170.4h0M336.6 169.6h0M336.8 170.2h0M337.0 170.3h0M337.2 169.9h0M337.4 170.5h0M337.5 169.6h0M337.7 170.4h0M337.9 170.1h0M338.1 169.2h0M338.3 169.1h0M338.5 169.8h0M338.6 169.9h0M338.8 168.9h0M339.0 169.0h0M339.2 169.3h0M339.4 168.4h0M339.6 169.0h0M339.7 168.3h0M339.9 167.5h0M340.1 167.6h0M340.3 167.5h0M340.5 167.1h0M340.6 167.2h0M340.8 166.5h0M341.0 167.2h0M341.2 166.8h0M341.4 167.4h0M341.6 167.6h0M341.7 167.6h0M341.9 167.9h0M342.1 168.7h0M342.3 169.1h0M342.5 169.2h0M342.7 169.1h0M342.8 168.9h0M343.0 168.8h0M343.2 170.0h0M343.4 169.8h0M343.6 170.1h0M343.8 169.5h0M343.9 169.9h0M344.1 170.4h0M344.3 170.3h0M344.5 170.0h0M344.7 169.7h0M344.9 169.9h0M345.0 170.4h0M345.2 169.8h0M345.4 170.2h0M345.6 170.1h0M345.8 170.5h0M346.0 170.4h0M346.1 169.7h0M346.3 169.4h0M346.5 169.7h0M346.7 169.9h0M346.9 170.1h0M347.0 170.3h0M347.2 170.4h0M347.4 169.3h0M347.6 170.3h0M347.8 170.2h0M348.0 170.2h0M348.1 169.8h0M348.3 169.4h0M348.5 170.0h0M348.7 169.9h0M348.9 169.7h0M349.1 169.8h0M349.2 169.0h0M349.4 168.5h0M349.6 168.9h0M349.8 168.9h0M350.0 167.9h0M350.2 168.2h0M350.3 168.0h0M350.5 166.7h0M350.7 166.6h0M350.9 166.1h0M351.1 165.3h0M351.3 164.4h0M351.4 163.9h0M351.6 164.1h0M351.8 164.0h0M352.0 163.6h0M352.2 163.3h0M352.3 164.6h0M352.5 165.1h0M352.7 165.0h0M352.9 166.0h0M353.1 167.0h0M353.3 167.5h0M353.4 167.5h0M353.6 167.9h0M353.8 168.4h0M354.0 168.2h0M354.2 168.5h0M354.4 168.7h0M354.5 169.5h0M354.7 169.2h0M354.9 169.6h0M355.1 169.5h0M355.3 169.7h0M355.5 169.4h0M355.6 169.3h0M355.8 170.5h0M356.0 169.8h0M356.2 169.5h0M356.4 170.2h0M356.6 170.4h0M356.7 169.7h0M356.9 170.2h0M357.1 170.0h0M357.3 170.2h0M357.5 169.6h0M357.7 169.6h0M357.8 170.8h0M358.0 170.7h0M358.2 170.2h0M358.4 170.3h0M358.6 170.0h0M358.7 170.6h0M358.9 170.2h0M359.1 170.8h0M359.3 170.6h0M359.5 170.7h0M359.7 170.9h0M359.8 170.0h0M360.0 169.8h0M360.2 170.0h0M360.4 170.0h0M360.6 169.9h0M360.8 169.8h0M360.9 170.4h0M361.1 170.8h0M361.3 170.3h0M361.5 170.9h0M361.7 170.9h0M361.9 169.8h0M362.0 170.5h0M362.2 170.2h0M362.4 169.9h0M362.6 170.9h0M362.8 170.0h0M363.0 170.4h0M363.1 170.5h0M363.3 170.9h0M363.5 170.5h0M363.7 170.2h0M363.9 170.2h0M364.0 169.8h0M364.2 170.8h0M364.4 170.8h0M364.6 169.9h0M364.8 169.7h0M365.0 169.9h0M365.1 170.0h0M365.3 170.7h0M365.5 170.7h0M365.7 170.6h0M365.9 169.7h0M366.1 170.6h0M366.2 170.5h0M366.4 170.4h0M366.6 170.8h0M366.8 169.7h0M367.0 169.8h0M367.2 170.5h0M367.3 170.7h0M367.5 170.4h0M367.7 169.9h0M367.9 170.3h0M368.1 170.5h0M368.3 169.7h0M368.4 169.9h0M368.6 169.8h0M368.8 169.6h0M369.0 170.0h0M369.2 169.6h0M369.3 169.6h0M369.5 169.4h0M369.7 170.0h0M369.9 169.1h0M370.1 169.9h0M370.3 169.2h0M370.4 168.9h0M370.6 169.8h0M370.8 168.8h0M371.0 169.5h0M371.2 169.2h0M371.4 168.9h0M371.5 167.7h0M371.7 167.6h0M371.9 166.7h0M372.1 167.2h0M372.3 166.4h0M372.5 165.4h0M372.6 164.4h0M372.8 163.4h0M373.0 163.0h0M373.2 161.7h0M373.4 161.1h0M373.6 159.8h0M373.7 159.6h0M373.9 159.4h0M374.1 160.5h0M374.3 161.0h0M374.5 161.3h0M374.7 163.1h0M374.8 163.3h0M375.0 164.4h0M375.2 164.9h0M375.4 165.8h0M375.6 167.1h0M375.7 167.1h0M375.9 167.3h0M376.1 168.1h0M376.3 168.3h0M376.5 169.2h0M376.7 168.5h0M376.8 169.8h0M377.0 168.8h0M377.2 170.0h0M377.4 169.8h0M377.6 169.4h0M377.8 169.8h0M377.9 169.6h0M378.1 169.6h0M378.3 169.6h0M378.5 169.9h0M378.7 170.7h0M378.9 170.7h0M379.0 170.7h0M379.2 169.7h0M379.4 170.0h0M379.6 170.7h0M379.8 169.7h0M380.0 170.6h0M380.1 170.1h0M380.3 170.9h0M380.5 169.8h0M380.7 170.7h0M380.9 170.2h0M381.0 170.0h0M381.2 169.8h0M381.4 170.8h0M381.6 170.5h0M381.8 170.1h0M382.0 170.4h0M382.1 170.9h0M382.3 170.1h0M382.5 170.5h0M382.7 170.0h0M382.9 170.1h0M383.1 170.8h0M383.2 170.7h0M383.4 170.1h0M383.6 170.0h0M383.8 170.0h0M384.0 170.6h0M384.2 170.5h0M384.3 170.2h0M384.5 170.1h0M384.7 170.6h0M384.9 170.7h0M385.1 170.9h0M385.3 170.6h0M385.4 170.1h0M385.6 170.0h0M385.8 170.8h0M386.0 170.4h0M386.2 170.7h0M386.3 169.9h0M386.5 170.8h0M386.7 170.2h0M386.9 170.9h0M387.1 170.9h0M387.3 170.4h0M387.4 169.8h0M387.6 170.9h0M387.8 170.4h0M388.0 170.8h0M388.2 170.1h0M388.4 170.0h0M388.5 170.7h0M388.7 170.1h0M388.9 169.9h0M389.1 170.1h0M389.3 170.4h0M389.5 169.6h0M389.6 170.2h0M389.8 170.1h0M390.0 170.1h0M390.2 169.6h0M390.4 170.3h0M390.6 170.4h0M390.7 170.4h0M390.9 169.7h0M391.1 170.1h0M391.3 169.6h0M391.5 170.0h0M391.7 169.1h0M391.8 169.9h0M392.0 169.9h0M392.2 169.2h0M392.4 169.1h0M392.6 168.9h0M392.7 168.7h0M392.9 167.9h0M393.1 168.7h0M393.3 167.5h0M393.5 167.0h0M393.7 166.5h0M393.8 166.2h0M394.0 166.3h0M394.2 164.7h0M394.4 164.1h0M394.6 164.1h0M394.8 162.7h0M394.9 161.7h0M395.1 161.6h0M395.3 160.9h0M395.5 160.2h0M395.7 160.0h0M395.9 159.1h0M396.0 160.0h0M396.2 159.9h0M396.4 159.3h0M396.6 159.7h0M396.8 160.4h0M397.0 160.6h0M397.1 160.5h0M397.3 160.4h0M397.5 160.7h0M397.7 160.3h0M397.9 160.8h0M398.0 161.0h0M398.2 160.2h0M398.4 160.8h0M398.6 161.3h0M398.8 161.0h0M399.0 162.3h0M399.1 163.1h0M399.3 163.2h0M399.5 163.9h0M399.7 165.1h0M399.9 165.4h0M400.1 165.8h0M400.2 167.0h0M400.4 167.4h0M400.6 167.3h0M400.8 167.6h0M401.0 168.0h0M401.2 168.4h0M401.3 169.3h0M401.5 169.4h0M401.7 169.7h0M401.9 169.7h0M402.1 169.9h0M402.3 169.1h0M402.4 169.7h0M402.6 170.4h0M402.8 170.4h0M403.0 169.7h0M403.2 169.9h0M403.4 170.3h0M403.5 170.0h0M403.7 170.2h0M403.9 169.7h0M404.1 170.2h0M404.3 170.3h0M404.4 169.8h0M404.6 170.0h0M404.8 171.0h0M405.0 170.8h0M405.2 171.0h0M405.4 170.7h0M405.5 170.9h0M405.7 171.0h0M405.9 171.0h0M406.1 170.0h0M406.3 170.8h0M406.5 170.3h0M406.6 170.8h0M406.8 170.4h0M407.0 170.7h0M407.2 171.2h0M407.4 170.8h0M407.6 170.4h0M407.7 170.7h0M407.9 170.6h0M408.1 171.2h0M408.3 170.5h0M408.5 170.5h0M408.7 170.9h0M408.8 170.3h0M409.0 170.8h0M409.2 171.2h0M409.4 170.7h0M409.6 170.4h0M409.7 170.6h0M409.9 170.7h0M410.1 170.2h0M410.3 170.1h0M410.5 170.1h0M410.7 170.3h0M410.8 170.4h0M411.0 170.2h0M411.2 170.1h0M411.4 169.9h0M411.6 170.4h0M411.8 170.8h0M411.9 170.5h0M412.1 170.4h0M412.3 170.5h0M412.5 170.0h0M412.7 170.6h0M412.9 170.4h0M413.0 170.5h0M413.2 170.6h0M413.4 170.5h0M413.6 170.4h0M413.8 170.3h0M414.0 170.3h0M414.1 170.7h0M414.3 170.6h0M414.5 170.9h0M414.7 170.2h0M414.9 170.7h0M415.0 171.3h0M415.2 170.6h0M415.4 171.0h0M415.6 170.9h0M415.8 170.7h0M416.0 171.5h0M416.1 170.7h0M416.3 171.3h0M416.5 170.6h0M416.7 170.5h0M416.9 171.5h0M417.1 170.9h0M417.2 170.5h0M417.4 170.9h0M417.6 171.0h0M417.8 171.3h0M418.0 170.6h0M418.2 170.7h0M418.3 171.6h0M418.5 171.4h0M418.7 170.7h0M418.9 170.9h0M419.1 170.9h0M419.3 171.3h0M419.4 171.2h0M419.6 171.5h0M419.8 171.5h0M420.0 171.1h0M420.2 171.4h0M420.4 171.4h0M420.5 171.4h0M420.7 171.1h0M420.9 171.5h0M421.1 171.4h0M421.3 171.6h0M421.4 170.7h0M421.6 171.6h0M421.8 170.5h0M422.0 171.5h0M422.2 171.3h0M422.4 171.1h0M422.5 171.7h0M422.7 171.2h0M422.9 171.1h0M423.1 171.5h0M423.3 171.6h0M423.5 171.3h0M423.6 171.0h0M423.8 171.1h0M424.0 171.1h0M424.2 171.4h0M424.4 170.9h0M424.6 171.1h0M424.7 171.3h0M424.9 171.1h0M425.1 171.0h0M425.3 171.5h0M425.5 171.6h0M425.7 171.2h0M425.8 171.1h0M426.0 170.8h0M426.2 171.0h0M426.4 170.8h0M426.6 171.3h0M426.7 171.3h0M426.9 170.7h0M427.1 171.7h0M427.3 171.0h0M427.5 171.6h0M427.7 171.6h0M427.8 171.8h0M428.0 170.9h0M428.2 171.2h0M428.4 171.7h0M428.6 170.7h0M428.8 170.7h0M428.9 171.3h0M429.1 171.2h0M429.3 171.8h0M429.5 171.6h0M429.7 171.3h0M429.9 171.9h0M430.0 171.3h0M430.2 171.3h0M430.4 171.5h0M430.6 171.1h0M430.8 171.1h0M431.0 171.4h0M431.1 171.1h0M431.3 171.8h0M431.5 171.5h0M431.7 171.3h0M431.9 170.8h0M432.0 171.1h0M432.2 171.2h0M432.4 171.4h0M432.6 171.4h0M432.8 171.8h0M433.0 171.9h0M433.1 171.3h0M433.3 171.2h0M433.5 171.5h0M433.7 171.9h0M433.9 171.1h0M434.1 171.3h0M434.2 171.7h0M434.4 170.9h0M434.6 171.1h0M434.8 171.9h0M435.0 171.7h0M435.2 171.3h0M435.3 170.9h0M435.5 171.8h0M435.7 171.6h0M435.9 171.7h0M436.1 171.9h0M436.3 171.8h0M436.4 171.2h0M436.6 170.9h0M436.8 171.1h0M437.0 171.4h0M437.2 171.4h0M437.4 171.0h0M437.5 171.0h0M437.7 171.5h0M437.9 171.5h0M438.1 171.2h0M438.3 172.0h0M438.4 171.5h0M438.6 170.8h0M438.8 171.3h0M439.0 171.7h0M439.2 171.1h0M439.4 171.6h0M439.5 170.8h0M439.7 171.1h0M439.9 171.8h0M440.1 171.5h0M440.3 171.6h0M440.5 171.0h0M440.6 171.4h0M440.8 171.5h0M441.0 171.1h0M441.2 171.6h0M441.4 171.4h0M441.6 172.0h0M441.7 171.5h0M441.9 171.3h0M442.1 170.9h0M442.3 171.0h0M442.5 171.7h0M442.7 170.9h0M442.8 170.9h0M443.0 171.0h0M443.2 171.4h0M443.4 171.8h0M443.6 171.6h0M443.7 171.8h0M443.9 170.9h0M444.1 170.8h0M444.3 171.7h0M444.5 171.2h0M444.7 171.7h0M444.8 171.3h0M445.0 171.0h0M445.2 171.2h0M445.4 171.0h0M445.6 171.9h0M445.8 171.5h0M445.9 171.3h0M446.1 171.4h0M446.3 171.3h0M446.5 170.9h0M446.7 171.9h0M446.9 171.5h0M447.0 172.0h0M447.2 171.4h0M447.4 171.6h0M447.6 171.2h0M447.8 170.9h0M448.0 172.0h0M448.1 171.9h0M448.3 171.2h0M448.5 171.9h0M448.7 171.8h0M448.9 171.2h0M449.1 171.6h0M449.2 172.0h0M449.4 171.5h0M449.6 172.0h0M449.8 171.2h0M450.0 171.4h0M450.1 171.7h0M450.3 171.2h0M450.5 171.3h0M450.7 171.9h0M450.9 171.5h0M451.1 171.8h0M451.2 171.2h0M451.4 171.1h0M451.6 171.3h0M451.8 171.1h0M452.0 172.1h0M452.2 171.3h0M452.3 171.6h0M452.5 171.0h0M452.7 171.6h0M452.9 171.4h0M453.1 171.4h0M453.3 171.0h0M453.4 171.1h0M453.6 171.9h0M453.8 171.3h0M454.0 171.2h0M454.2 171.2h0M454.4 171.3h0M454.5 171.2h0M454.7 171.0h0M454.9 171.7h0M455.1 171.3h0M455.3 171.1h0M455.4 171.8h0M455.6 171.1h0M455.8 171.3h0M456.0 171.9h0M456.2 171.1h0M456.4 171.5h0M456.5 172.0h0M456.7 171.9h0M456.9 171.1h0M457.1 171.4h0M457.3 171.8h0M457.5 171.4h0M457.6 172.1h0M457.8 171.2h0M458.0 172.1h0M458.2 171.6h0M458.4 171.2h0M458.6 171.5h0M458.7 171.1h0M458.9 171.8h0M459.1 171.3h0M459.3 172.1h0M459.5 171.7h0M459.7 171.4h0M459.8 171.3h0M460.0 171.7h0M460.2 171.2h0M460.4 172.0h0M460.6 171.1h0M460.7 171.6h0M460.9 171.6h0M461.1 171.3h0M461.3 171.9h0M461.5 171.5h0M461.7 171.8h0M461.8 171.7h0M462.0 171.4h0M462.2 171.5h0M462.4 171.1h0M462.6 171.2h0M462.8 172.0h0M462.9 171.4h0M463.1 171.8h0M463.3 171.1h0M463.5 171.7h0M463.7 171.5h0M463.9 171.6h0M464.0 171.4h0M464.2 171.1h0M464.4 171.4h0M464.6 171.3h0M464.8 171.2h0M465.0 171.9h0M465.1 171.4h0M465.3 171.5h0M465.5 172.1h0M465.7 172.0h0M465.9 172.1h0M466.1 172.1h0M466.2 171.2h0M466.4 171.4h0M466.6 171.1h0M466.8 171.9h0M467.0 171.8h0M467.1 171.5h0M467.3 171.5h0M467.5 171.8h0M467.7 171.9h0M467.9 171.4h0M468.1 172.1h0M468.2 171.5h0M468.4 171.8h0M468.6 171.3h0M468.8 171.2h0M469.0 172.2h0M469.2 171.9h0M469.3 171.9h0M469.5 171.1h0M469.7 171.1h0M469.9 171.3h0M470.1 171.3h0M470.3 171.4h0M470.4 171.5h0M470.6 171.1h0M470.8 171.4h0M471.0 171.8h0M471.2 171.3h0M471.4 172.1h0M471.5 171.8h0M471.7 171.9h0M471.9 171.4h0M472.1 171.6h0M472.3 171.9h0M472.4 171.5h0M472.6 171.1h0M472.8 172.1h0M473.0 172.0h0M473.2 171.4h0M473.4 171.1h0M473.5 172.1h0M473.7 171.8h0M473.9 171.1h0M474.1 171.4h0M474.3 171.2h0M474.5 172.0h0M474.6 171.3h0M474.8 172.2h0M475.0 172.0h0M475.2 171.2h0M475.4 171.9h0M475.6 171.5h0M475.7 172.0h0M475.9 172.1h0M476.1 171.4h0M476.3 171.2h0M476.5 172.2h0M476.7 171.6h0M476.8 172.2h0M477.0 171.9h0M477.2 171.9h0M477.4 172.0h0M477.6 171.8h0M477.7 171.6h0M477.9 171.1h0M478.1 171.8h0M478.3 171.5h0M478.5 171.6h0M478.7 172.1h0M478.8 171.1h0M479.0 171.8h0M479.2 170.9h0M479.4 171.7h0M479.6 171.8h0M479.8 171.1h0M479.9 171.4h0M480.1 171.8h0M480.3 171.4h0M480.5 171.2h0M480.7 170.8h0M480.9 170.5h0M481.0 170.7h0M481.2 170.7h0M481.4 170.4h0M481.6 170.4h0M481.8 170.1h0M482.0 170.7h0M482.1 170.6h0M482.3 170.0h0M482.5 170.0h0M482.7 170.3h0M482.9 170.3h0M483.1 170.9h0M483.2 170.3h0M483.4 170.3h0M483.6 171.1h0M483.8 170.3h0M484.0 170.9h0M484.1 170.7h0M484.3 171.4h0M484.5 171.2h0M484.7 171.5h0M484.9 170.9h0M485.1 171.5h0M485.2 171.5h0M485.4 171.4h0M485.6 171.8h0M485.8 171.9h0M486.0 171.1h0M486.2 171.3h0M486.3 171.4h0M486.5 171.3h0M486.7 171.1h0M486.9 171.4h0M487.1 171.3h0M487.3 172.0h0M487.4 171.7h0M487.6 171.3h0M487.8 171.5h0M488.0 171.7h0M488.2 171.6h0M488.4 171.4h0M488.5 171.3h0M488.7 171.2h0M488.9 172.4h0M489.1 172.1h0M489.3 171.3h0M489.4 172.1h0M489.6 172.4h0M489.8 171.9h0M490.0 171.4h0M490.2 171.8h0M490.4 171.8h0M490.5 171.5h0M490.7 171.9h0M490.9 171.3h0M491.1 172.4h0M491.3 172.0h0M491.5 172.0h0M491.6 172.4h0M491.8 172.1h0M492.0 171.6h0M492.2 171.6h0M492.4 171.4h0M492.6 171.3h0M492.7 172.2h0M492.9 172.3h0M493.1 171.6h0M493.3 171.5h0M493.5 172.1h0M493.7 172.3h0M493.8 172.4h0M494.0 171.5h0M494.2 172.2h0M494.4 172.3h0M494.6 172.2h0M494.8 171.7h0M494.9 171.5h0M495.1 172.3h0M495.3 171.7h0M495.5 171.8h0M495.7 172.0h0M495.8 171.8h0M496.0 172.3h0M496.2 171.6h0M496.4 171.4h0M496.6 172.0h0M496.8 172.1h0M496.9 172.3h0M497.1 172.2h0M497.3 172.4h0M497.5 172.5h0M497.7 171.9h0M497.9 172.0h0M498.0 171.5h0M498.2 171.7h0M498.4 172.1h0M498.6 171.5h0M498.8 172.2h0M499.0 171.6h0M499.1 171.9h0M499.3 172.5h0M499.5 171.5h0M499.7 171.4h0M499.9 171.9h0M500.1 171.6h0M500.2 172.3h0M500.4 171.4h0M500.6 172.4h0M500.8 172.4h0M501.0 172.3h0M501.1 171.9h0M501.3 171.7h0M501.5 172.2h0M501.7 172.0h0M501.9 171.9h0M502.1 171.8h0M502.2 171.9h0M502.4 172.2h0M502.6 172.4h0M502.8 172.5h0M503.0 171.6h0M503.2 171.8h0M503.3 171.9h0M503.5 172.1h0M503.7 171.8h0M503.9 171.7h0M504.1 171.5h0M504.3 171.8h0M504.4 172.0h0M504.6 172.6h0M504.8 172.5h0M505.0 172.5h0M505.2 172.6h0M505.4 172.6h0M505.5 172.2h0M505.7 172.4h0M505.9 171.5h0M506.1 172.3h0M506.3 172.2h0M506.4 171.8h0M506.6 172.1h0M506.8 172.6h0M507.0 172.0h0M507.2 172.2h0M507.4 171.8h0M507.5 171.9h0M507.7 172.5h0M507.9 171.5h0M508.1 171.7h0M508.3 172.3h0M508.5 172.0h0" stroke="#f00" stroke-width="7.2" stroke-linecap="round" fill="none"/>
<polyline points="40.67,167.35 40.86,167.35 41.04,167.35 41.22,167.35 41.41,167.34 41.59,167.34 41.77,167.34 41.95,167.34 42.14,167.34 42.32,167.34 42.50,167.34 42.69,167.34 42.87,167.34 43.05,167.34 43.23,167.34 43.42,167.34 43.60,167.34 43.78,167.34 43.97,167.34 44.15,167.34 44.33,167.33 44.51,167.33 44.70,167.33 44.88,167.33 45.06,167.33 45.24,167.33 45.43,167.33 45.61,167.32 45.79,167.32 45.98,167.32 46.16,167.32 46.34,167.32 46.52,167.31 46.71,167.31 46.89,167.31 47.07,167.30 47.26,167.30 47.44,167.30 47.62,167.30 47.80,167.29 47.99,167.29 48.17,167.28 48.35,167.28 48.54,167.28 48.72,167.27 48.90,167.27 49.08,167.26 49.27,167.26 49.45,167.25 49.63,167.24 49.81,167.24 50.00,167.23 50.18,167.22 50.36,167.22 50.55,167.21 50.73,167.20 50.91,167.19 51.09,167.18 51.28,167.17 51.46,167.16 51.64,167.15 51.83,167.14 52.01,167.13 52.19,167.12 52.37,167.10 52.56,167.09 52.74,167.08 52.92,167.06 53.11,167.04 53.29,167.03 53.47,167.01 53.65,166.99 53.84,166.96 54.02,166.94 54.20,166.92 54.38,166.89 54.57,166.86 54.75,166.83 54.93,166.80 55.12,166.76 55.30,166.73 55.48,166.69 55.66,166.64 55.85,166.59 56.03,166.54 56.21,166.49 56.40,166.42 56.58,166.36 56.76,166.29 56.94,166.20 57.13,166.12 57.31,166.02 57.49,165.91 57.68,165.79 57.86,165.66 58.04,165.51 58.22,165.34 58.41,165.15 58.59,164.94 58.77,164.69 58.95,164.41 59.14,164.09 59.32,163.72 59.50,163.28 59.69,162.76 59.87,162.14 60.05,161.40 60.23,160.49 60.42,159.36 60.60,157.91 60.78,155.98 60.97,153.33 61.15,149.60 61.33,144.30 61.51,136.85 61.70,126.67 61.88,113.38 62.06,97.22 62.25,79.79 62.43,65.16 62.61,59.23 62.79,65.16 62.98,79.78 63.16,97.21 63.34,113.37 63.52,126.66 63.71,136.83 63.89,144.28 64.07,149.58 64.26,153.30 64.44,155.95 64.62,157.88 64.80,159.33 64.99,160.46 65.17,161.36 65.35,162.10 65.54,162.71 65.72,163.23 65.90,163.66 66.08,164.03 66.27,164.35 66.45,164.63 66.63,164.87 66.82,165.08 67.00,165.26 67.18,165.43 67.36,165.57 67.55,165.70 67.73,165.81 67.91,165.91 68.09,166.00 68.28,166.08 68.46,166.16 68.64,166.22 68.83,166.28 69.01,166.33 69.19,166.38 69.37,166.42 69.56,166.46 69.74,166.49 69.92,166.52 70.11,166.55 70.29,166.57 70.47,166.59 70.65,166.61 70.84,166.62 71.02,166.63 71.20,166.63 71.39,166.64 71.57,166.64 71.75,166.64 71.93,166.64 72.12,166.63 72.30,166.62 72.48,166.61 72.66,166.59 72.85,166.57 73.03,166.55 73.21,166.52 73.40,166.49 73.58,166.46 73.76,166.42 73.94,166.38 74.13,166.33 74.31,166.27 74.49,166.21 74.68,166.15 74.86,166.07 75.04,165.98 75.22,165.89 75.41,165.78 75.59,165.66 75.77,165.52 75.96,165.37 76.14,165.19 76.32,164.99 76.50,164.77 76.69,164.51 76.87,164.20 77.05,163.86 77.24,163.45 77.42,162.97 77.60,162.39 77.78,161.71 77.97,160.88 78.15,159.85 78.33,158.54 78.51,156.84 78.70,154.54 78.88,151.33 79.06,146.79 79.25,140.35 79.43,131.39 79.61,119.41 79.79,104.24 79.98,86.71 80.16,69.61 80.34,58.36 80.53,58.36 80.71,69.62 80.89,86.73 81.07,104.27 81.26,119.44 81.44,131.43 81.62,140.39 81.81,146.84 81.99,151.39 82.17,154.60 82.35,156.91 82.54,158.62 82.72,159.93 82.90,160.97 83.08,161.81 83.27,162.50 83.45,163.08 83.63,163.56 83.82,163.98 84.00,164.34 84.18,164.65 84.36,164.91 84.55,165.15 84.73,165.36 84.91,165.54 85.10,165.70 85.28,165.84 85.46,165.97 85.64,166.09 85.83,166.19 86.01,166.29 86.19,166.37 86.38,166.45 86.56,166.52 86.74,166.58 86.92,166.64 87.11,166.69 87.29,166.74 87.47,166.78 87.65,166.82 87.84,166.86 88.02,166.89 88.20,166.92 88.39,166.95 88.57,166.97 88.75,166.99 88.93,167.01 89.12,167.03 89.30,167.04 89.48,167.05 89.67,167.06 89.85,167.06 90.03,167.06 90.21,167.06 90.40,167.06 90.58,167.05 90.76,167.04 90.95,167.02 91.13,167.00 91.31,166.97 91.49,166.93 91.68,166.88 91.86,166.83 92.04,166.76 92.22,166.67 92.41,166.57 92.59,166.45 92.77,166.31 92.96,166.14 93.14,165.95 93.32,165.74 93.50,165.50 93.69,165.24 93.87,164.96 94.05,164.67 94.24,164.38 94.42,164.11 94.60,163.88 94.78,163.71 94.97,163.62 95.15,163.62 95.33,163.72 95.52,163.90 95.70,164.14 95.88,164.42 96.06,164.71 96.25,165.01 96.43,165.30 96.61,165.57 96.79,165.81 96.98,166.04 97.16,166.23 97.34,166.40 97.53,166.55 97.71,166.68 97.89,166.79 98.07,166.88 98.26,166.96 98.44,167.03 98.62,167.08 98.81,167.13 98.99,167.16 99.17,167.19 99.35,167.22 99.54,167.24 99.72,167.25 99.90,167.26 100.09,167.27 100.27,167.28 100.45,167.28 100.63,167.27 100.82,167.27 101.00,167.26 101.18,167.25 101.36,167.23 101.55,167.21 101.73,167.18 101.91,167.15 102.10,167.12 102.28,167.08 102.46,167.03 102.64,166.97 102.83,166.90 103.01,166.82 103.19,166.73 103.38,166.62 103.56,166.49 103.74,166.33 103.92,166.13 104.11,165.90 104.29,165.60 104.47,165.22 104.66,164.71 104.84,164.01 105.02,163.03 105.20,161.63 105.39,159.66 105.57,156.97 105.75,153.46 105.93,149.18 106.12,144.57 106.30,140.71 106.48,139.14 106.67,140.70 106.85,144.56 107.03,149.17 107.21,153.44 107.40,156.94 107.58,159.63 107.76,161.59 107.95,162.98 108.13,163.96 108.31,164.65 108.49,165.15 108.68,165.53 108.86,165.82 109.04,166.04 109.23,166.23 109.41,166.37 109.59,166.49 109.77,166.59 109.96,166.67 110.14,166.73 110.32,166.78 110.50,166.81 110.69,166.84 110.87,166.86 111.05,166.86 111.24,166.86 111.42,166.85 111.60,166.82 111.78,166.79 111.97,166.75 112.15,166.70 112.33,166.63 112.52,166.55 112.70,166.45 112.88,166.33 113.06,166.19 113.25,166.02 113.43,165.82 113.61,165.57 113.80,165.28 113.98,164.91 114.16,164.44 114.34,163.84 114.53,163.04 114.71,161.93 114.89,160.37 115.07,158.14 115.26,155.01 115.44,150.73 115.62,145.14 115.81,138.34 115.99,131.00 116.17,124.85 116.35,122.36 116.54,124.86 116.72,131.03 116.90,138.38 117.09,145.19 117.27,150.79 117.45,155.09 117.63,158.23 117.82,160.46 118.00,162.04 118.18,163.16 118.37,163.97 118.55,164.59 118.73,165.07 118.91,165.46 119.10,165.77 119.28,166.03 119.46,166.25 119.64,166.44 119.83,166.60 120.01,166.74 120.19,166.86 120.38,166.96 120.56,167.05 120.74,167.14 120.92,167.21 121.11,167.27 121.29,167.33 121.47,167.38 121.66,167.43 121.84,167.47 122.02,167.50 122.20,167.54 122.39,167.57 122.57,167.60 122.75,167.62 122.94,167.64 123.12,167.66 123.30,167.68 123.48,167.70 123.67,167.71 123.85,167.73 124.03,167.74 124.21,167.75 124.40,167.75 124.58,167.76 124.76,167.77 124.95,167.77 125.13,167.77 125.31,167.78 125.49,167.78 125.68,167.77 125.86,167.77 126.04,167.77 126.23,167.76 126.41,167.75 126.59,167.74 126.77,167.72 126.96,167.71 127.14,167.69 127.32,167.67 127.51,167.64 127.69,167.61 127.87,167.57 128.05,167.52 128.24,167.46 128.42,167.40 128.60,167.31 128.78,167.21 128.97,167.09 129.15,166.94 129.33,166.76 129.52,166.54 129.70,166.28 129.88,165.98 130.06,165.63 130.25,165.23 130.43,164.78 130.61,164.29 130.80,163.79 130.98,163.30 131.16,162.86 131.34,162.52 131.53,162.34 131.71,162.34 131.89,162.53 132.08,162.87 132.26,163.32 132.44,163.82 132.62,164.33 132.81,164.82 132.99,165.28 133.17,165.68 133.35,166.04 133.54,166.36 133.72,166.62 133.90,166.85 134.09,167.03 134.27,167.19 134.45,167.32 134.63,167.43 134.82,167.52 135.00,167.59 135.18,167.66 135.37,167.71 135.55,167.76 135.73,167.80 135.91,167.84 136.10,167.87 136.28,167.90 136.46,167.92 136.65,167.95 136.83,167.97 137.01,167.99 137.19,168.00 137.38,168.02 137.56,168.04 137.74,168.05 137.92,168.06 138.11,168.07 138.29,168.08 138.47,168.09 138.66,168.10 138.84,168.11 139.02,168.12 139.20,168.12 139.39,168.13 139.57,168.13 139.75,168.14 139.94,168.14 140.12,168.15 140.30,168.15 140.48,168.15 140.67,168.16 140.85,168.16 141.03,168.16 141.22,168.16 141.40,168.16 141.58,168.16 141.76,168.16 141.95,168.16 142.13,168.16 142.31,168.16 142.49,168.16 142.68,168.16 142.86,168.16 143.04,168.16 143.23,168.15 143.41,168.15 143.59,168.14 143.77,168.14 143.96,168.13 144.14,168.13 144.32,168.12 144.51,168.11 144.69,168.10 144.87,168.09 145.05,168.08 145.24,168.07 145.42,168.06 145.60,168.04 145.79,168.03 145.97,168.01 146.15,167.99 146.33,167.97 146.52,167.95 146.70,167.92 146.88,167.89 147.06,167.86 147.25,167.82 147.43,167.78 147.61,167.73 147.80,167.68 147.98,167.62 148.16,167.56 148.34,167.48 148.53,167.40 148.71,167.30 148.89,167.18 149.08,167.05 149.26,166.89 149.44,166.71 149.62,166.48 149.81,166.21 149.99,165.87 150.17,165.43 150.36,164.86 150.54,164.08 150.72,163.02 150.90,161.57 151.09,159.63 151.27,157.08 151.45,153.87 151.63,150.04 151.82,145.87 152.00,142.05 152.18,139.65 152.37,139.65 152.55,142.04 152.73,145.86 152.91,150.03 153.10,153.85 153.28,157.06 153.46,159.61 153.65,161.55 153.83,162.99 154.01,164.04 154.19,164.81 154.38,165.38 154.56,165.81 154.74,166.14 154.93,166.41 155.11,166.62 155.29,166.80 155.47,166.94 155.66,167.06 155.84,167.16 156.02,167.24 156.20,167.30 156.39,167.35 156.57,167.38 156.75,167.40 156.94,167.41 157.12,167.40 157.30,167.37 157.48,167.33 157.67,167.26 157.85,167.18 158.03,167.06 158.22,166.92 158.40,166.76 158.58,166.56 158.76,166.34 158.95,166.09 159.13,165.84 159.31,165.58 159.50,165.36 159.68,165.19 159.86,165.10 160.04,165.11 160.23,165.22 160.41,165.41 160.59,165.65 160.77,165.93 160.96,166.20 161.14,166.47 161.32,166.71 161.51,166.94 161.69,167.13 161.87,167.30 162.05,167.44 162.24,167.56 162.42,167.65 162.60,167.73 162.79,167.80 162.97,167.85 163.15,167.90 163.33,167.93 163.52,167.95 163.70,167.97 163.88,167.99 164.07,168.00 164.25,168.00 164.43,168.00 164.61,168.00 164.80,167.99 164.98,167.98 165.16,167.96 165.34,167.94 165.53,167.92 165.71,167.88 165.89,167.85 166.08,167.80 166.26,167.75 166.44,167.68 166.62,167.61 166.81,167.52 166.99,167.41 167.17,167.28 167.36,167.13 167.54,166.94 167.72,166.69 167.90,166.38 168.09,165.97 168.27,165.41 168.45,164.64 168.64,163.60 168.82,162.19 169.00,160.34 169.18,158.01 169.37,155.23 169.55,152.20 169.73,149.42 169.91,147.69 170.10,147.69 170.28,149.44 170.46,152.22 170.65,155.25 170.83,158.04 171.01,160.38 171.19,162.24 171.38,163.66 171.56,164.71 171.74,165.49 171.93,166.06 172.11,166.48 172.29,166.80 172.47,167.05 172.66,167.25 172.84,167.42 173.02,167.56 173.21,167.67 173.39,167.77 173.57,167.86 173.75,167.94 173.94,168.00 174.12,168.06 174.30,168.11 174.48,168.16 174.67,168.20 174.85,168.23 175.03,168.27 175.22,168.30 175.40,168.32 175.58,168.35 175.76,168.37 175.95,168.39 176.13,168.41 176.31,168.43 176.50,168.44 176.68,168.46 176.86,168.47 177.04,168.48 177.23,168.49 177.41,168.50 177.59,168.51 177.78,168.52 177.96,168.53 178.14,168.54 178.32,168.55 178.51,168.55 178.69,168.56 178.87,168.57 179.05,168.57 179.24,168.58 179.42,168.58 179.60,168.59 179.79,168.59 179.97,168.59 180.15,168.60 180.33,168.60 180.52,168.60 180.70,168.60 180.88,168.61 181.07,168.61 181.25,168.61 181.43,168.61 181.61,168.61 181.80,168.61 181.98,168.61 182.16,168.61 182.35,168.61 182.53,168.61 182.71,168.60 182.89,168.60 183.08,168.60 183.26,168.59 183.44,168.59 183.62,168.58 183.81,168.58 183.99,168.57 184.17,168.56 184.36,168.56 184.54,168.55 184.72,168.53 184.90,168.52 185.09,168.51 185.27,168.49 185.45,168.48 185.64,168.46 185.82,168.44 186.00,168.41 186.18,168.39 186.37,168.36 186.55,168.32 186.73,168.28 186.92,168.24 187.10,168.19 187.28,168.13 187.46,168.07 187.65,167.99 187.83,167.90 188.01,167.79 188.19,167.67 188.38,167.51 188.56,167.32 188.74,167.08 188.93,166.77 189.11,166.36 189.29,165.82 189.47,165.11 189.66,164.17 189.84,162.96 190.02,161.45 190.21,159.64 190.39,157.58 190.57,155.45 190.75,153.59 190.94,152.46 191.12,152.47 191.30,153.59 191.49,155.46 191.67,157.60 191.85,159.66 192.03,161.47 192.22,162.98 192.40,164.19 192.58,165.13 192.76,165.85 192.95,166.39 193.13,166.81 193.31,167.12 193.50,167.36 193.68,167.56 193.86,167.71 194.04,167.84 194.23,167.95 194.41,168.04 194.59,168.12 194.78,168.19 194.96,168.25 195.14,168.30 195.32,168.35 195.51,168.38 195.69,168.42 195.87,168.45 196.06,168.48 196.24,168.50 196.42,168.52 196.60,168.54 196.79,168.55 196.97,168.56 197.15,168.57 197.33,168.57 197.52,168.58 197.70,168.57 197.88,168.57 198.07,168.56 198.25,168.54 198.43,168.52 198.61,168.49 198.80,168.45 198.98,168.40 199.16,168.34 199.35,168.27 199.53,168.18 199.71,168.08 199.89,167.97 200.08,167.85 200.26,167.72 200.44,167.59 200.63,167.48 200.81,167.40 200.99,167.35 201.17,167.36 201.36,167.41 201.54,167.51 201.72,167.63 201.90,167.77 202.09,167.91 202.27,168.04 202.45,168.17 202.64,168.28 202.82,168.38 203.00,168.46 203.18,168.54 203.37,168.60 203.55,168.65 203.73,168.70 203.92,168.73 204.10,168.77 204.28,168.79 204.46,168.82 204.65,168.84 204.83,168.85 205.01,168.87 205.20,168.88 205.38,168.89 205.56,168.91 205.74,168.92 205.93,168.93 206.11,168.93 206.29,168.94 206.47,168.95 206.66,168.96 206.84,168.96 207.02,168.97 207.21,168.98 207.39,168.98 207.57,168.99 207.75,168.99 207.94,169.00 208.12,169.00 208.30,169.01 208.49,169.01 208.67,169.01 208.85,169.02 209.03,169.02 209.22,169.03 209.40,169.03 209.58,169.03 209.77,169.04 209.95,169.04 210.13,169.04 210.31,169.04 210.50,169.05 210.68,169.05 210.86,169.05 211.04,169.06 211.23,169.06 211.41,169.06 211.59,169.06 211.78,169.07 211.96,169.07 212.14,169.07 212.32,169.07 212.51,169.07 212.69,169.08 212.87,169.08 213.06,169.08 213.24,169.08 213.42,169.08 213.60,169.08 213.79,169.09 213.97,169.09 214.15,169.09 214.34,169.09 214.52,169.09 214.70,169.09 214.88,169.09 215.07,169.09 215.25,169.09 215.43,169.09 215.61,169.09 215.80,169.09 215.98,169.09 216.16,169.08 216.35,169.08 216.53,169.08 216.71,169.07 216.89,169.07 217.08,169.06 217.26,169.05 217.44,169.04 217.63,169.03 217.81,169.01 217.99,168.99 218.17,168.96 218.36,168.93 218.54,168.89 218.72,168.85 218.91,168.80 219.09,168.74 219.27,168.68 219.45,168.62 219.64,168.56 219.82,168.51 220.00,168.46 220.18,168.44 220.37,168.45 220.55,168.47 220.73,168.52 220.92,168.57 221.10,168.64 221.28,168.71 221.46,168.77 221.65,168.83 221.83,168.88 222.01,168.93 222.20,168.97 222.38,169.01 222.56,169.04 222.74,169.06 222.93,169.08 223.11,169.10 223.29,169.12 223.48,169.13 223.66,169.14 223.84,169.15 224.02,169.16 224.21,169.17 224.39,169.17 224.57,169.18 224.75,169.19 224.94,169.19 225.12,169.20 225.30,169.20 225.49,169.20 225.67,169.21 225.85,169.21 226.03,169.22 226.22,169.22 226.40,169.22 226.58,169.23 226.77,169.23 226.95,169.23 227.13,169.23 227.31,169.24 227.50,169.24 227.68,169.24 227.86,169.25 228.05,169.25 228.23,169.25 228.41,169.25 228.59,169.26 228.78,169.26 228.96,169.26 229.14,169.26 229.32,169.26 229.51,169.27 229.69,169.27 229.87,169.27 230.06,169.27 230.24,169.27 230.42,169.28 230.60,169.28 230.79,169.28 230.97,169.28 231.15,169.28 231.34,169.29 231.52,169.29 231.70,169.29 231.88,169.29 232.07,169.29 232.25,169.29 232.43,169.30 232.62,169.30 232.80,169.30 232.98,169.30 233.16,169.30 233.35,169.30 233.53,169.31 233.71,169.31 233.89,169.31 234.08,169.31 234.26,169.31 234.44,169.31 234.63,169.31 234.81,169.32 234.99,169.32 235.17,169.32 235.36,169.32 235.54,169.32 235.72,169.32 235.91,169.32 236.09,169.32 236.27,169.32 236.45,169.33 236.64,169.33 236.82,169.33 237.00,169.33 237.19,169.33 237.37,169.33 237.55,169.33 237.73,169.33 237.92,169.33 238.10,169.33 238.28,169.33 238.46,169.33 238.65,169.33 238.83,169.33 239.01,169.33 239.20,169.33 239.38,169.33 239.56,169.33 239.74,169.33 239.93,169.33 240.11,169.33 240.29,169.32 240.48,169.32 240.66,169.32 240.84,169.31 241.02,169.31 241.21,169.30 241.39,169.29 241.57,169.28 241.76,169.26 241.94,169.25 242.12,169.23 242.30,169.20 242.49,169.17 242.67,169.14 242.85,169.11 243.03,169.07 243.22,169.03 243.40,168.99 243.58,168.95 243.77,168.92 243.95,168.91 244.13,168.91 244.31,168.93 244.50,168.96 244.68,168.99 244.86,169.03 245.05,169.08 245.23,169.12 245.41,169.15 245.59,169.19 245.78,169.22 245.96,169.24 246.14,169.27 246.33,169.28 246.51,169.30 246.69,169.31 246.87,169.32 247.06,169.33 247.24,169.34 247.42,169.35 247.60,169.35 247.79,169.35 247.97,169.36 248.15,169.36 248.34,169.36 248.52,169.37 248.70,169.37 248.88,169.37 249.07,169.37 249.25,169.37 249.43,169.37 249.62,169.37 249.80,169.37 249.98,169.37 250.16,169.37 250.35,169.37 250.53,169.37 250.71,169.37 250.90,169.37 251.08,169.37 251.26,169.37 251.44,169.37 251.63,169.37 251.81,169.36 251.99,169.36 252.17,169.36 252.36,169.36 252.54,169.35 252.72,169.35 252.91,169.35 253.09,169.34 253.27,169.34 253.45,169.33 253.64,169.33 253.82,169.32 254.00,169.31 254.19,169.31 254.37,169.30 254.55,169.29 254.73,169.28 254.92,169.27 255.10,169.26 255.28,169.25 255.47,169.24 255.65,169.22 255.83,169.21 256.01,169.19 256.20,169.17 256.38,169.15 256.56,169.13 256.74,169.10 256.93,169.07 257.11,169.04 257.29,169.00 257.48,168.96 257.66,168.91 257.84,168.86 258.02,168.79 258.21,168.72 258.39,168.63 258.57,168.53 258.76,168.41 258.94,168.26 259.12,168.06 259.30,167.82 259.49,167.50 259.67,167.07 259.85,166.51 260.04,165.78 260.22,164.84 260.40,163.66 260.58,162.25 260.77,160.65 260.95,158.99 261.13,157.53 261.31,156.65 261.50,156.65 261.68,157.51 261.86,158.95 262.05,160.60 262.23,162.19 262.41,163.59 262.59,164.75 262.78,165.68 262.96,166.39 263.14,166.94 263.33,167.35 263.51,167.65 263.69,167.88 263.87,168.05 264.06,168.18 264.24,168.28 264.42,168.35 264.61,168.41 264.79,168.46 264.97,168.49 265.15,168.51 265.34,168.52 265.52,168.52 265.70,168.51 265.88,168.49 266.07,168.46 266.25,168.42 266.43,168.37 266.62,168.31 266.80,168.24 266.98,168.15 267.16,168.04 267.35,167.91 267.53,167.75 267.71,167.57 267.90,167.33 268.08,167.04 268.26,166.67 268.44,166.20 268.63,165.57 268.81,164.73 268.99,163.62 269.18,162.16 269.36,160.29 269.54,157.95 269.72,155.13 269.91,151.93 270.09,148.62 270.27,145.72 270.45,143.98 270.64,143.98 270.82,145.73 271.00,148.63 271.19,151.95 271.37,155.15 271.55,157.97 271.73,160.32 271.92,162.20 272.10,163.66 272.28,164.77 272.47,165.62 272.65,166.25 272.83,166.74 273.01,167.11 273.20,167.41 273.38,167.65 273.56,167.85 273.75,168.01 273.93,168.15 274.11,168.27 274.29,168.37 274.48,168.46 274.66,168.54 274.84,168.60 275.02,168.66 275.21,168.71 275.39,168.75 275.57,168.79 275.76,168.82 275.94,168.85 276.12,168.87 276.30,168.89 276.49,168.90 276.67,168.91 276.85,168.92 277.04,168.92 277.22,168.92 277.40,168.92 277.58,168.92 277.77,168.91 277.95,168.89 278.13,168.88 278.32,168.86 278.50,168.83 278.68,168.80 278.86,168.77 279.05,168.73 279.23,168.68 279.41,168.62 279.59,168.56 279.78,168.48 279.96,168.40 280.14,168.29 280.33,168.17 280.51,168.02 280.69,167.84 280.87,167.61 281.06,167.33 281.24,166.98 281.42,166.55 281.61,166.01 281.79,165.35 281.97,164.56 282.15,163.64 282.34,162.57 282.52,161.40 282.70,160.17 282.89,158.99 283.07,158.02 283.25,157.41 283.43,157.29 283.62,157.64 283.80,158.34 283.98,159.20 284.16,160.07 284.35,160.83 284.53,161.39 284.71,161.74 284.90,161.86 285.08,161.76 285.26,161.47 285.44,161.04 285.63,160.58 285.81,160.19 285.99,160.03 286.18,160.17 286.36,160.63 286.54,161.34 286.72,162.18 286.91,163.04 287.09,163.85 287.27,164.57 287.46,165.20 287.64,165.71 287.82,166.12 288.00,166.44 288.19,166.68 288.37,166.84 288.55,166.94 288.73,166.99 288.92,166.98 289.10,166.93 289.28,166.83 289.47,166.69 289.65,166.48 289.83,166.21 290.01,165.85 290.20,165.38 290.38,164.75 290.56,163.91 290.75,162.78 290.93,161.26 291.11,159.26 291.29,156.68 291.48,153.45 291.66,149.56 291.84,145.13 292.03,140.54 292.21,136.53 292.39,134.12 292.57,134.14 292.76,136.58 292.94,140.63 293.12,145.25 293.30,149.71 293.49,153.64 293.67,156.91 293.85,159.53 294.04,161.57 294.22,163.13 294.40,164.31 294.58,165.20 294.77,165.88 294.95,166.41 295.13,166.84 295.32,167.18 295.50,167.46 295.68,167.70 295.86,167.90 296.05,168.08 296.23,168.23 296.41,168.36 296.60,168.48 296.78,168.58 296.96,168.67 297.14,168.74 297.33,168.81 297.51,168.87 297.69,168.93 297.87,168.97 298.06,169.01 298.24,169.04 298.42,169.06 298.61,169.08 298.79,169.09 298.97,169.09 299.15,169.08 299.34,169.06 299.52,169.03 299.70,168.99 299.89,168.93 300.07,168.86 300.25,168.78 300.43,168.68 300.62,168.57 300.80,168.45 300.98,168.34 301.17,168.24 301.35,168.16 301.53,168.13 301.71,168.14 301.90,168.21 302.08,168.31 302.26,168.44 302.44,168.58 302.63,168.72 302.81,168.86 302.99,168.99 303.18,169.11 303.36,169.21 303.54,169.30 303.72,169.38 303.91,169.45 304.09,169.50 304.27,169.55 304.46,169.59 304.64,169.63 304.82,169.66 305.00,169.69 305.19,169.71 305.37,169.73 305.55,169.75 305.74,169.77 305.92,169.78 306.10,169.79 306.28,169.81 306.47,169.82 306.65,169.83 306.83,169.84 307.01,169.85 307.20,169.86 307.38,169.87 307.56,169.88 307.75,169.89 307.93,169.89 308.11,169.90 308.29,169.91 308.48,169.91 308.66,169.92 308.84,169.93 309.03,169.93 309.21,169.94 309.39,169.94 309.57,169.95 309.76,169.96 309.94,169.96 310.12,169.97 310.31,169.97 310.49,169.97 310.67,169.98 310.85,169.98 311.04,169.99 311.22,169.99 311.40,170.00 311.58,170.00 311.77,170.00 311.95,170.01 312.13,170.01 312.32,170.02 312.50,170.02 312.68,170.02 312.86,170.03 313.05,170.03 313.23,170.03 313.41,170.04 313.60,170.04 313.78,170.04 313.96,170.05 314.14,170.05 314.33,170.05 314.51,170.06 314.69,170.06 314.88,170.06 315.06,170.07 315.24,170.07 315.42,170.07 315.61,170.08 315.79,170.08 315.97,170.08 316.15,170.08 316.34,170.09 316.52,170.09 316.70,170.09 316.89,170.09 317.07,170.10 317.25,170.10 317.43,170.10 317.62,170.10 317.80,170.11 317.98,170.11 318.17,170.11 318.35,170.11 318.53,170.12 318.71,170.12 318.90,170.12 319.08,170.12 319.26,170.13 319.45,170.13 319.63,170.13 319.81,170.13 319.99,170.14 320.18,170.14 320.36,170.14 320.54,170.14 320.72,170.14 320.91,170.15 321.09,170.15 321.27,170.15 321.46,170.15 321.64,170.15 321.82,170.16 322.00,170.16 322.19,170.16 322.37,170.16 322.55,170.16 322.74,170.17 322.92,170.17 323.10,170.17 323.28,170.17 323.47,170.17 323.65,170.18 323.83,170.18 324.02,170.18 324.20,170.18 324.38,170.18 324.56,170.19 324.75,170.19 324.93,170.19 325.11,170.19 325.29,170.19 325.48,170.19 325.66,170.19 325.84,170.20 326.03,170.20 326.21,170.20 326.39,170.20 326.57,170.20 326.76,170.20 326.94,170.21 327.12,170.21 327.31,170.21 327.49,170.21 327.67,170.21 327.85,170.21 328.04,170.21 328.22,170.21 328.40,170.21 328.59,170.22 328.77,170.22 328.95,170.22 329.13,170.22 329.32,170.22 329.50,170.22 329.68,170.22 329.86,170.22 330.05,170.22 330.23,170.22 330.41,170.22 330.60,170.22 330.78,170.22 330.96,170.22 331.14,170.22 331.33,170.22 331.51,170.22 331.69,170.22 331.88,170.22 332.06,170.22 332.24,170.22 332.42,170.22 332.61,170.22 332.79,170.22 332.97,170.22 333.16,170.22 333.34,170.22 333.52,170.21 333.70,170.21 333.89,170.21 334.07,170.21 334.25,170.20 334.43,170.20 334.62,170.20 334.80,170.19 334.98,170.19 335.17,170.18 335.35,170.17 335.53,170.17 335.71,170.16 335.90,170.15 336.08,170.14 336.26,170.13 336.45,170.12 336.63,170.10 336.81,170.09 336.99,170.07 337.18,170.05 337.36,170.02 337.54,169.99 337.73,169.95 337.91,169.91 338.09,169.86 338.27,169.79 338.46,169.72 338.64,169.63 338.82,169.51 339.00,169.38 339.19,169.23 339.37,169.05 339.55,168.85 339.74,168.62 339.92,168.38 340.10,168.13 340.28,167.88 340.47,167.66 340.65,167.49 340.83,167.39 341.02,167.39 341.20,167.48 341.38,167.65 341.56,167.87 341.75,168.12 341.93,168.37 342.11,168.61 342.30,168.84 342.48,169.04 342.66,169.22 342.84,169.37 343.03,169.50 343.21,169.60 343.39,169.69 343.57,169.77 343.76,169.83 343.94,169.88 344.12,169.92 344.31,169.95 344.49,169.97 344.67,169.99 344.85,170.01 345.04,170.02 345.22,170.03 345.40,170.04 345.59,170.04 345.77,170.04 345.95,170.04 346.13,170.04 346.32,170.03 346.50,170.03 346.68,170.01 346.87,170.00 347.05,169.99 347.23,169.97 347.41,169.94 347.60,169.92 347.78,169.89 347.96,169.85 348.14,169.81 348.33,169.75 348.51,169.69 348.69,169.62 348.88,169.53 349.06,169.42 349.24,169.28 349.42,169.12 349.61,168.92 349.79,168.69 349.97,168.40 350.16,168.08 350.34,167.69 350.52,167.26 350.70,166.77 350.89,166.25 351.07,165.71 351.25,165.17 351.44,164.69 351.62,164.33 351.80,164.13 351.98,164.14 352.17,164.34 352.35,164.71 352.53,165.19 352.71,165.73 352.90,166.28 353.08,166.81 353.26,167.30 353.45,167.74 353.63,168.12 353.81,168.46 353.99,168.74 354.18,168.99 354.36,169.19 354.54,169.36 354.73,169.50 354.91,169.61 355.09,169.71 355.27,169.79 355.46,169.86 355.64,169.92 355.82,169.97 356.01,170.02 356.19,170.05 356.37,170.09 356.55,170.12 356.74,170.15 356.92,170.17 357.10,170.19 357.28,170.21 357.47,170.23 357.65,170.25 357.83,170.27 358.02,170.28 358.20,170.30 358.38,170.31 358.56,170.32 358.75,170.33 358.93,170.34 359.11,170.35 359.30,170.36 359.48,170.37 359.66,170.38 359.84,170.38 360.03,170.39 360.21,170.40 360.39,170.41 360.58,170.41 360.76,170.42 360.94,170.43 361.12,170.43 361.31,170.44 361.49,170.45 361.67,170.45 361.85,170.46 362.04,170.47 362.22,170.48 362.40,170.49 362.59,170.51 362.77,170.52 362.95,170.54 363.13,170.56 363.32,170.58 363.50,170.61 363.68,170.63 363.87,170.66 364.05,170.69 364.23,170.71 364.41,170.73 364.60,170.74 364.78,170.73 364.96,170.72 365.15,170.70 365.33,170.67 365.51,170.63 365.69,170.60 365.88,170.56 366.06,170.53 366.24,170.50 366.42,170.47 366.61,170.45 366.79,170.42 366.97,170.40 367.16,170.37 367.34,170.35 367.52,170.33 367.70,170.31 367.89,170.28 368.07,170.26 368.25,170.23 368.44,170.20 368.62,170.17 368.80,170.14 368.98,170.11 369.17,170.07 369.35,170.02 369.53,169.97 369.72,169.91 369.90,169.85 370.08,169.77 370.26,169.69 370.45,169.59 370.63,169.46 370.81,169.32 370.99,169.14 371.18,168.93 371.36,168.68 371.54,168.37 371.73,168.00 371.91,167.56 372.09,167.05 372.27,166.46 372.46,165.79 372.64,165.04 372.82,164.23 373.01,163.39 373.19,162.56 373.37,161.83 373.55,161.26 373.74,160.96 373.92,160.96 374.10,161.27 374.29,161.83 374.47,162.57 374.65,163.40 374.83,164.24 375.02,165.05 375.20,165.80 375.38,166.48 375.56,167.07 375.75,167.59 375.93,168.03 376.11,168.40 376.30,168.70 376.48,168.96 376.66,169.18 376.84,169.35 377.03,169.50 377.21,169.62 377.39,169.73 377.58,169.82 377.76,169.89 377.94,169.96 378.12,170.02 378.31,170.07 378.49,170.11 378.67,170.15 378.86,170.19 379.04,170.22 379.22,170.25 379.40,170.28 379.59,170.30 379.77,170.33 379.95,170.35 380.13,170.37 380.32,170.38 380.50,170.40 380.68,170.41 380.87,170.43 381.05,170.44 381.23,170.45 381.41,170.46 381.60,170.47 381.78,170.48 381.96,170.49 382.15,170.49 382.33,170.50 382.51,170.51 382.69,170.51 382.88,170.52 383.06,170.52 383.24,170.53 383.43,170.53 383.61,170.53 383.79,170.53 383.97,170.54 384.16,170.54 384.34,170.54 384.52,170.54 384.70,170.54 384.89,170.54 385.07,170.54 385.25,170.54 385.44,170.54 385.62,170.53 385.80,170.53 385.98,170.53 386.17,170.52 386.35,170.52 386.53,170.51 386.72,170.51 386.90,170.50 387.08,170.50 387.26,170.49 387.45,170.48 387.63,170.47 387.81,170.46 388.00,170.45 388.18,170.44 388.36,170.43 388.54,170.41 388.73,170.40 388.91,170.38 389.09,170.36 389.27,170.34 389.46,170.32 389.64,170.29 389.82,170.27 390.01,170.24 390.19,170.21 390.37,170.17 390.55,170.14 390.74,170.10 390.92,170.05 391.10,170.00 391.29,169.94 391.47,169.87 391.65,169.80 391.83,169.71 392.02,169.61 392.20,169.50 392.38,169.37 392.57,169.21 392.75,169.03 392.93,168.82 393.11,168.58 393.30,168.29 393.48,167.96 393.66,167.59 393.84,167.16 394.03,166.68 394.21,166.15 394.39,165.56 394.58,164.93 394.76,164.27 394.94,163.59 395.12,162.94 395.31,162.35 395.49,161.86 395.67,161.51 395.86,161.32 396.04,161.28 396.22,161.37 396.40,161.55 396.59,161.75 396.77,161.96 396.95,162.12 397.14,162.22 397.32,162.26 397.50,162.23 397.68,162.16 397.87,162.07 398.05,162.00 398.23,161.99 398.41,162.09 398.60,162.31 398.78,162.67 398.96,163.14 399.15,163.70 399.33,164.30 399.51,164.91 399.69,165.52 399.88,166.10 400.06,166.63 400.24,167.12 400.43,167.55 400.61,167.94 400.79,168.29 400.97,168.59 401.16,168.85 401.34,169.07 401.52,169.27 401.71,169.44 401.89,169.58 402.07,169.71 402.25,169.82 402.44,169.91 402.62,169.99 402.80,170.07 402.98,170.13 403.17,170.19 403.35,170.24 403.53,170.29 403.72,170.34 403.90,170.37 404.08,170.41 404.26,170.45 404.45,170.48 404.63,170.51 404.81,170.53 405.00,170.56 405.18,170.58 405.36,170.60 405.54,170.62 405.73,170.64 405.91,170.66 406.09,170.68 406.28,170.70 406.46,170.71 406.64,170.73 406.82,170.74 407.01,170.75 407.19,170.76 407.37,170.78 407.55,170.79 407.74,170.80 407.92,170.81 408.10,170.81 408.29,170.82 408.47,170.83 408.65,170.84 408.83,170.84 409.02,170.85 409.20,170.85 409.38,170.86 409.57,170.86 409.75,170.86 409.93,170.87 410.11,170.87 410.30,170.87 410.48,170.86 410.66,170.86 410.85,170.86 411.03,170.86 411.21,170.86 411.39,170.85 411.58,170.85 411.76,170.85 411.94,170.85 412.12,170.85 412.31,170.86 412.49,170.86 412.67,170.87 412.86,170.89 413.04,170.90 413.22,170.91 413.40,170.92 413.59,170.94 413.77,170.95 413.95,170.96 414.14,170.97 414.32,170.98 414.50,170.99 414.68,171.00 414.87,171.01 415.05,171.02 415.23,171.03 415.42,171.04 415.60,171.04 415.78,171.05 415.96,171.05 416.15,171.06 416.33,171.06 416.51,171.07 416.69,171.07 416.88,171.08 417.06,171.08 417.24,171.09 417.43,171.09 417.61,171.09 417.79,171.10 417.97,171.10 418.16,171.10 418.34,171.11 418.52,171.11 418.71,171.12 418.89,171.12 419.07,171.12 419.25,171.12 419.44,171.13 419.62,171.13 419.80,171.13 419.99,171.14 420.17,171.14 420.35,171.14 420.53,171.15 420.72,171.15 420.90,171.15 421.08,171.15 421.26,171.16 421.45,171.16 421.63,171.16 421.81,171.17 422.00,171.17 422.18,171.17 422.36,171.17 422.54,171.18 422.73,171.18 422.91,171.18 423.09,171.18 423.28,171.19 423.46,171.19 423.64,171.19 423.82,171.19 424.01,171.20 424.19,171.20 424.37,171.20 424.56,171.20 424.74,171.21 424.92,171.21 425.10,171.21 425.29,171.21 425.47,171.22 425.65,171.22 425.83,171.22 426.02,171.22 426.20,171.22 426.38,171.23 426.57,171.23 426.75,171.23 426.93,171.23 427.11,171.24 427.30,171.24 427.48,171.24 427.66,171.24 427.85,171.25 428.03,171.25 428.21,171.25 428.39,171.25 428.58,171.25 428.76,171.26 428.94,171.26 429.13,171.26 429.31,171.26 429.49,171.27 429.67,171.27 429.86,171.27 430.04,171.27 430.22,171.27 430.40,171.28 430.59,171.28 430.77,171.28 430.95,171.28 431.14,171.28 431.32,171.29 431.50,171.29 431.68,171.29 431.87,171.29 432.05,171.30 432.23,171.30 432.42,171.30 432.60,171.30 432.78,171.30 432.96,171.31 433.15,171.31 433.33,171.31 433.51,171.31 433.70,171.31 433.88,171.32 434.06,171.32 434.24,171.32 434.43,171.32 434.61,171.32 434.79,171.33 434.97,171.33 435.16,171.33 435.34,171.33 435.52,171.33 435.71,171.34 435.89,171.34 436.07,171.34 436.25,171.34 436.44,171.34 436.62,171.35 436.80,171.35 436.99,171.35 437.17,171.35 437.35,171.35 437.53,171.36 437.72,171.36 437.90,171.36 438.08,171.36 438.27,171.36 438.45,171.37 438.63,171.37 438.81,171.37 439.00,171.37 439.18,171.37 439.36,171.38 439.54,171.38 439.73,171.38 439.91,171.38 440.09,171.38 440.28,171.39 440.46,171.39 440.64,171.39 440.82,171.39 441.01,171.39 441.19,171.40 441.37,171.40 441.56,171.40 441.74,171.40 441.92,171.40 442.10,171.41 442.29,171.41 442.47,171.41 442.65,171.41 442.84,171.41 443.02,171.41 443.20,171.42 443.38,171.42 443.57,171.42 443.75,171.42 443.93,171.42 444.11,171.43 444.30,171.43 444.48,171.43 444.66,171.43 444.85,171.43 445.03,171.44 445.21,171.44 445.39,171.44 445.58,171.44 445.76,171.44 445.94,171.45 446.13,171.45 446.31,171.45 446.49,171.45 446.67,171.45 446.86,171.45 447.04,171.46 447.22,171.46 447.41,171.46 447.59,171.46 447.77,171.46 447.95,171.47 448.14,171.47 448.32,171.47 448.50,171.47 448.68,171.47 448.87,171.48 449.05,171.48 449.23,171.48 449.42,171.48 449.60,171.48 449.78,171.48 449.96,171.49 450.15,171.49 450.33,171.49 450.51,171.49 450.70,171.49 450.88,171.50 451.06,171.50 451.24,171.50 451.43,171.50 451.61,171.50 451.79,171.51 451.98,171.51 452.16,171.51 452.34,171.51 452.52,171.51 452.71,171.51 452.89,171.52 453.07,171.52 453.25,171.52 453.44,171.52 453.62,171.52 453.80,171.53 453.99,171.53 454.17,171.53 454.35,171.53 454.53,171.53 454.72,171.53 454.90,171.54 455.08,171.54 455.27,171.54 455.45,171.54 455.63,171.54 455.81,171.55 456.00,171.55 456.18,171.55 456.36,171.55 456.55,171.55 456.73,171.55 456.91,171.56 457.09,171.56 457.28,171.56 457.46,171.56 457.64,171.56 457.82,171.57 458.01,171.57 458.19,171.57 458.37,171.57 458.56,171.57 458.74,171.57 458.92,171.58 459.10,171.58 459.29,171.58 459.47,171.58 459.65,171.58 459.84,171.59 460.02,171.59 460.20,171.59 460.38,171.59 460.57,171.59 460.75,171.59 460.93,171.60 461.12,171.60 461.30,171.60 461.48,171.60 461.66,171.60 461.85,171.60 462.03,171.61 462.21,171.61 462.39,171.61 462.58,171.61 462.76,171.61 462.94,171.61 463.13,171.62 463.31,171.62 463.49,171.62 463.67,171.62 463.86,171.62 464.04,171.62 464.22,171.63 464.41,171.63 464.59,171.63 464.77,171.63 464.95,171.63 465.14,171.63 465.32,171.64 465.50,171.64 465.69,171.64 465.87,171.64 466.05,171.64 466.23,171.64 466.42,171.65 466.60,171.65 466.78,171.65 466.96,171.65 467.15,171.65 467.33,171.65 467.51,171.66 467.70,171.66 467.88,171.66 468.06,171.66 468.24,171.66 468.43,171.66 468.61,171.66 468.79,171.67 468.98,171.67 469.16,171.67 469.34,171.67 469.52,171.67 469.71,171.67 469.89,171.67 470.07,171.68 470.26,171.68 470.44,171.68 470.62,171.68 470.80,171.68 470.99,171.68 471.17,171.68 471.35,171.68 471.53,171.68 471.72,171.69 471.90,171.69 472.08,171.69 472.27,171.69 472.45,171.69 472.63,171.69 472.81,171.69 473.00,171.69 473.18,171.69 473.36,171.69 473.55,171.69 473.73,171.69 473.91,171.69 474.09,171.69 474.28,171.69 474.46,171.69 474.64,171.69 474.83,171.69 475.01,171.69 475.19,171.69 475.37,171.69 475.56,171.69 475.74,171.69 475.92,171.69 476.10,171.69 476.29,171.69 476.47,171.68 476.65,171.68 476.84,171.68 477.02,171.67 477.20,171.67 477.38,171.67 477.57,171.66 477.75,171.65 477.93,171.65 478.12,171.64 478.30,171.63 478.48,171.62 478.66,171.60 478.85,171.59 479.03,171.57 479.21,171.55 479.40,171.52 479.58,171.50 479.76,171.46 479.94,171.42 480.13,171.38 480.31,171.33 480.49,171.28 480.67,171.22 480.86,171.15 481.04,171.08 481.22,171.01 481.41,170.93 481.59,170.85 481.77,170.78 481.95,170.71 482.14,170.65 482.32,170.61 482.50,170.59 482.69,170.59 482.87,170.62 483.05,170.66 483.23,170.72 483.42,170.79 483.60,170.87 483.78,170.95 483.97,171.04 484.15,171.11 484.33,171.19 484.51,171.26 484.70,171.32 484.88,171.38 485.06,171.43 485.24,171.48 485.43,171.52 485.61,171.56 485.79,171.59 485.98,171.62 486.16,171.64 486.34,171.66 486.52,171.68 486.71,171.70 486.89,171.72 487.07,171.73 487.26,171.74 487.44,171.75 487.62,171.76 487.80,171.77 487.99,171.78 488.17,171.79 488.35,171.79 488.54,171.80 488.72,171.81 488.90,171.81 489.08,171.82 489.27,171.82 489.45,171.83 489.63,171.83 489.81,171.84 490.00,171.84 490.18,171.85 490.36,171.85 490.55,171.85 490.73,171.86 490.91,171.86 491.09,171.86 491.28,171.87 491.46,171.87 491.64,171.87 491.83,171.88 492.01,171.88 492.19,171.88 492.37,171.89 492.56,171.89 492.74,171.89 492.92,171.90 493.11,171.90 493.29,171.90 493.47,171.90 493.65,171.91 493.84,171.91 494.02,171.91 494.20,171.91 494.38,171.92 494.57,171.92 494.75,171.92 494.93,171.92 495.12,171.93 495.30,171.93 495.48,171.93 495.66,171.93 495.85,171.94 496.03,171.94 496.21,171.94 496.40,171.94 496.58,171.94 496.76,171.95 496.94,171.95 497.13,171.95 497.31,171.95 497.49,171.95 497.68,171.96 497.86,171.96 498.04,171.96 498.22,171.96 498.41,171.97 498.59,171.97 498.77,171.97 498.95,171.97 499.14,171.97 499.32,171.98 499.50,171.98 499.69,171.98 499.87,171.98 500.05,171.98 500.23,171.99 500.42,171.99 500.60,171.99 500.78,171.99 500.97,171.99 501.15,172.00 501.33,172.00 501.51,172.00 501.70,172.00 501.88,172.00 502.06,172.01 502.25,172.01 502.43,172.01 502.61,172.01 502.79,172.01 502.98,172.02 503.16,172.02 503.34,172.02 503.52,172.02 503.71,172.02 503.89,172.03 504.07,172.03 504.26,172.03 504.44,172.03 504.62,172.03 504.80,172.04 504.99,172.04 505.17,172.04 505.35,172.04 505.54,172.04 505.72,172.04 505.90,172.05 506.08,172.05 506.27,172.05 506.45,172.05 506.63,172.05 506.82,172.06 507.00,172.06 507.18,172.06 507.36,172.06 507.55,172.06 507.73,172.07 507.91,172.07 508.09,172.07 508.28,172.07 508.46,172.07" stroke="#000" stroke-width="2" fill="none" stroke-linejoin="round"/>
<path d="M48.0 177v11.5M50.8 177v11.5M58.0 177v11.5M61.1 177v11.5M64.8 177v11.5M68.4 177v11.5M73.0 177v11.5M80.7 177v11.5M85.9 177v11.5M94.8 177v11.5M96.5 177v11.5M97.5 177v11.5M99.3 177v11.5M106.8 177v11.5M113.0 177v11.5M116.3 177v11.5M128.5 177v11.5M130.0 177v11.5M132.3 177v11.5M135.0 177v11.5M149.2 177v11.5M151.5 177v11.5M154.2 177v11.5M157.7 177v11.5M160.8 177v11.5M162.3 177v11.5M167.5 177v11.5M169.6 177v11.5M176.1 177v11.5M181.5 177v11.5M183.0 177v11.5M184.8 177v11.5M188.4 177v11.5M193.0 177v11.5M195.0 177v11.5M198.4 177v11.5M202.5 177v11.5M207.0 177v11.5M209.0 177v11.5M211.0 177v11.5M212.3 177v11.5M219.0 177v11.5M221.0 177v11.5M223.0 177v11.5M225.2 177v11.5M229.7 177v11.5M236.3 177v11.5M240.7 177v11.5M242.5 177v11.5M244.0 177v11.5" stroke="#f0f" stroke-width="1.8" fill="none"/>
<rect x="253.5" y="177" width="256" height="11.5" fill="#f0f"/>
<path d="M260.0 176.5v12.5M265.3 176.5v12.5M266.6 176.5v12.5M273.0 176.5v12.5M277.8 176.5v12.5M279.7 176.5v12.5M281.6 176.5v12.5M290.0 176.5v12.5M296.6 176.5v12.5M305.0 176.5v12.5M309.7 176.5v12.5M312.2 176.5v12.5M322.0 176.5v12.5M324.7 176.5v12.5M326.6 176.5v12.5M337.0 176.5v12.5M346.0 176.5v12.5M356.0 176.5v12.5M358.8 176.5v12.5M365.3 176.5v12.5M385.9 176.5v12.5M389.2 176.5v12.5M391.6 176.5v12.5M394.4 176.5v12.5M401.9 176.5v12.5M419.7 176.5v12.5M426.7 176.5v12.5M429.7 176.5v12.5M433.8 176.5v12.5M443.8 176.5v12.5M445.4 176.5v12.5M447.7 176.5v12.5M452.8 176.5v12.5M456.2 176.5v12.5M462.3 176.5v12.5M464.6 176.5v12.5M466.9 176.5v12.5M469.2 176.5v12.5M480.8 176.5v12.5M484.6 176.5v12.5M496.2 176.5v12.5M500.8 176.5v12.5M507.7 176.5v12.5" stroke="#fff" stroke-width="1" fill="none"/>
<path d="M258.2 176.5v12.5M261.6 176.5v12.5M269.0 176.5v12.5M276.3 176.5v12.5M284.8 176.5v12.5M288.1 176.5v12.5M291.9 176.5v12.5M293.9 176.5v12.5M299.1 176.5v12.5M302.1 176.5v12.5M307.0 176.5v12.5M315.5 176.5v12.5M319.0 176.5v12.5M329.9 176.5v12.5M332.0 176.5v12.5M333.8 176.5v12.5M339.8 176.5v12.5M342.1 176.5v12.5M349.7 176.5v12.5M352.2 176.5v12.5M362.4 176.5v12.5M368.5 176.5v12.5M371.8 176.5v12.5M375.7 176.5v12.5M379.5 176.5v12.5M382.0 176.5v12.5M384.6 176.5v12.5M396.4 176.5v12.5M398.2 176.5v12.5M404.0 176.5v12.5M406.5 176.5v12.5M410.1 176.5v12.5M413.0 176.5v12.5M415.5 176.5v12.5M418.3 176.5v12.5M421.7 176.5v12.5M423.6 176.5v12.5M436.5 176.5v12.5M438.3 176.5v12.5M441.9 176.5v12.5M449.4 176.5v12.5M451.3 176.5v12.5M459.6 176.5v12.5M475.9 176.5v12.5M478.9 176.5v12.5M482.4 176.5v12.5M487.9 176.5v12.5M491.4 176.5v12.5M502.9 176.5v12.5M505.4 176.5v12.5" stroke="#fff" stroke-width="0.7" fill="none" opacity="0.55"/>
<rect x="471.4" y="176.5" width="2.4" height="12.5" fill="#fff"/>
<polyline points="41.0,193.6 42.2,194.1 43.4,193.9 44.6,194.1 45.8,193.9 47.0,194.0 48.2,194.1 49.4,193.9 50.6,193.7 51.8,193.7 53.0,194.4 54.2,194.1 55.4,193.7 56.6,194.3 57.8,193.8 59.0,193.7 60.2,194.0 61.3,194.2 62.1,191.2 62.9,200.2 63.7,194.2 64.5,193.8 65.7,194.0 66.9,194.1 68.1,193.8 69.3,194.1 70.5,193.7 71.7,194.0 72.9,194.1 74.1,193.7 75.3,193.9 76.5,193.6 77.7,194.0 78.9,194.4 80.2,194.2 81.0,182.2 81.8,200.2 82.6,194.2 83.4,194.1 84.6,194.2 85.8,194.3 87.0,193.7 88.2,194.5 89.4,194.2 90.6,193.7 91.8,194.3 93.0,193.9 94.2,193.7 95.4,194.5 96.6,194.1 97.8,194.3 99.0,193.7 100.2,194.3 101.4,193.7 102.6,193.8 103.8,193.9 105.0,193.6 106.4,194.2 107.2,192.2 108.0,199.2 108.8,194.2 109.6,194.1 110.8,193.8 112.0,193.9 113.2,194.2 114.8,194.2 115.6,181.2 116.4,200.2 117.2,194.2 118.0,194.0 119.2,194.4 120.4,194.2 121.6,194.4 122.8,194.1 124.0,194.4 125.2,194.4 126.4,193.8 127.6,194.3 128.8,194.2 129.6,192.2 130.4,196.2 131.2,194.2 132.0,193.9 133.2,194.3 134.4,194.2 135.6,194.4 136.8,193.7 138.0,194.0 139.2,194.3 140.4,194.5 141.6,194.3 142.8,193.7 144.0,194.2 145.2,193.7 146.4,194.1 147.6,194.4 148.8,193.7 150.5,194.2 151.3,185.2 152.1,199.2 152.9,194.2 153.7,194.5 154.9,194.3 156.1,193.9 157.3,193.8 158.5,194.1 159.7,194.4 160.9,194.2 162.1,193.8 163.3,193.7 164.5,193.8 165.7,194.4 166.9,193.8 168.1,194.2 169.4,194.2 170.2,190.2 171.0,199.2 171.8,194.2 172.6,193.9 173.8,194.3 175.0,194.0 176.2,193.8 177.4,194.5 178.6,194.2 179.8,194.3 181.0,194.4 182.2,194.5 183.4,193.7 184.6,194.0 185.8,193.8 187.0,194.1 188.2,194.5 189.4,194.4 190.3,194.2 191.1,191.2 191.9,197.2 192.7,194.2 193.5,193.7 194.7,193.8 195.9,194.4 197.1,194.3 198.3,194.0 199.5,194.1 200.7,193.8 201.9,194.4 203.1,194.0 204.3,194.5 205.5,194.2 206.7,193.8 207.9,194.0 209.1,193.9 210.3,194.5 211.5,194.2 212.7,193.7 213.9,193.9 215.1,194.0 216.3,194.1 217.5,194.2 218.7,194.1 219.9,194.0 221.1,193.7 222.3,194.2 223.5,194.0 224.7,193.7 225.9,194.1 227.1,194.6 228.3,193.8 229.5,193.8 230.7,194.3 231.9,194.0 233.1,194.0 234.3,194.2 235.5,194.0 236.7,194.2 237.9,194.2 239.1,194.6 240.3,194.6 241.5,193.8 242.7,194.2 243.9,194.4 245.1,194.5 246.3,194.4 247.5,194.3 248.7,194.3 249.9,194.1 251.1,194.0 252.3,194.4 253.5,194.5 254.7,194.6 255.9,194.3 257.1,194.0 258.3,194.4 259.5,194.4 260.3,194.2 261.1,187.2 261.9,197.7 262.7,194.2 263.5,194.2 264.7,194.3 265.9,194.1 267.1,194.2 268.3,194.1 269.8,194.2 270.6,188.7 271.4,200.7 272.2,194.2 273.0,193.8 274.2,194.1 275.4,194.0 276.6,194.6 277.8,194.2 279.0,194.1 280.2,194.0 281.4,194.0 282.6,194.1 283.4,194.2 284.2,188.7 285.0,196.2 285.8,194.2 286.6,193.9 287.8,193.8 289.0,194.5 290.2,194.2 291.4,194.2 292.4,194.2 293.2,187.7 294.0,194.7 294.8,194.2 295.6,194.3 296.8,194.0 298.0,193.9 299.2,193.8 300.4,194.0 301.6,194.1 302.8,194.4 304.0,194.3 305.2,194.6 306.4,194.1 307.6,194.6 308.8,194.3 310.0,193.9 311.2,193.9 312.4,194.3 313.6,194.7 314.8,194.1 316.0,194.5 317.2,194.2 318.4,194.6 319.6,193.8 320.8,194.2 322.0,194.6 323.2,194.0 324.4,194.0 325.6,193.8 326.8,193.9 328.0,194.0 329.2,194.4 330.4,194.0 331.6,194.2 332.8,194.0 334.0,194.3 335.2,194.6 336.4,194.4 337.6,194.0 338.8,194.5 339.8,194.2 340.6,192.7 341.4,195.2 342.2,194.2 343.0,194.7 344.2,194.4 345.4,193.9 346.6,194.5 347.8,194.6 349.0,194.1 350.2,193.9 351.2,194.2 352.0,192.2 352.8,195.7 353.6,194.2 354.4,194.0 355.6,194.3 356.8,194.6 358.0,194.4 359.2,194.7 360.4,194.0 361.6,194.1 362.8,194.5 364.0,194.4 365.2,194.2 366.4,194.4 367.6,194.1 368.8,193.9 370.0,194.2 371.2,193.9 372.4,194.4 373.3,194.2 374.1,192.2 374.9,195.2 375.7,194.2 376.5,194.1 377.7,194.3 378.9,194.4 380.1,194.1 381.3,194.3 382.5,193.9 383.7,194.7 384.9,194.4 386.1,194.7 387.3,193.9 388.5,194.4 389.7,194.5 390.9,194.1 392.1,193.9 393.3,194.0 394.5,194.0 395.4,194.2 396.2,192.2 397.0,195.7 397.8,194.2 398.6,194.5 399.8,193.9 401.0,194.6 402.2,194.2 403.4,194.3 404.6,194.4 405.8,194.4 407.0,194.5 408.2,194.4 409.4,194.2 410.6,194.5 411.8,194.1 413.0,194.5 414.2,194.6 415.4,194.6 416.6,194.1 417.8,194.6 419.0,194.8 420.2,194.3 421.4,194.1 422.6,194.3 423.8,194.7 425.0,194.0 426.2,193.9 427.4,194.3 428.6,194.5 429.8,194.6 431.0,194.2 432.2,194.8 433.4,194.1 434.6,194.6 435.8,194.0 437.0,193.9 438.2,194.0 439.4,193.9 440.6,194.3 441.8,194.4 443.0,194.1 444.2,194.7 445.4,194.2 446.6,194.0 447.8,194.1 449.0,194.6 450.2,194.7 451.4,194.0 452.6,193.9 453.8,194.6 455.0,194.1 456.2,194.8 457.4,194.4 458.6,194.5 459.8,194.2 461.0,194.6 462.2,194.3 463.4,194.2 464.6,194.7 465.8,194.0 467.0,194.6 468.2,194.0 469.4,194.5 470.6,194.3 471.8,194.7 473.0,194.0 474.2,194.4 475.4,194.3 476.6,194.7 477.8,194.8 479.0,194.5 480.2,194.1 481.4,194.2 482.6,194.2 483.8,194.3 485.0,194.1 486.2,194.1 487.4,194.6 488.6,194.5 489.8,194.2 491.0,194.8 492.2,194.1 493.4,194.4 494.6,194.1 495.8,194.7 497.0,194.7 498.2,194.2 499.4,194.6 500.6,194.7 501.8,194.2 503.0,194.2 504.2,194.4 505.4,194.7 506.6,194.1 507.8,194.6 509.0,194.5" stroke="#00f" stroke-width="1.8" fill="none"/>
</g>
<rect x="40" y="1" width="470" height="200" fill="none" stroke="#000" stroke-width="2.6"/>
<path d="M42.96 202v5.5M47.53 202v5.5M52.10 202v10M56.67 202v5.5M61.24 202v5.5M65.81 202v5.5M70.38 202v5.5M74.95 202v5.5M79.52 202v5.5M84.09 202v5.5M88.66 202v5.5M93.23 202v5.5M97.80 202v10M102.37 202v5.5M106.94 202v5.5M111.51 202v5.5M116.08 202v5.5M120.65 202v5.5M125.22 202v5.5M129.79 202v5.5M134.36 202v5.5M138.93 202v5.5M143.50 202v10M148.07 202v5.5M152.64 202v5.5M157.21 202v5.5M161.78 202v5.5M166.35 202v5.5M170.92 202v5.5M175.49 202v5.5M180.06 202v5.5M184.63 202v5.5M189.20 202v10M193.77 202v5.5M198.34 202v5.5M202.91 202v5.5M207.48 202v5.5M212.05 202v5.5M216.62 202v5.5M221.19 202v5.5M225.76 202v5.5M230.33 202v5.5M234.90 202v10M239.47 202v5.5M244.04 202v5.5M248.61 202v5.5M253.18 202v5.5M257.75 202v5.5M262.32 202v5.5M266.89 202v5.5M271.46 202v5.5M276.03 202v5.5M280.60 202v10M285.17 202v5.5M289.74 202v5.5M294.31 202v5.5M298.88 202v5.5M303.45 202v5.5M308.02 202v5.5M312.59 202v5.5M317.16 202v5.5M321.73 202v5.5M326.30 202v10M330.87 202v5.5M335.44 202v5.5M340.01 202v5.5M344.58 202v5.5M349.15 202v5.5M353.72 202v5.5M358.29 202v5.5M362.86 202v5.5M367.43 202v5.5M372.00 202v10M376.57 202v5.5M381.14 202v5.5M385.71 202v5.5M390.28 202v5.5M394.85 202v5.5M399.42 202v5.5M403.99 202v5.5M408.56 202v5.5M413.13 202v5.5M417.70 202v10M422.27 202v5.5M426.84 202v5.5M431.41 202v5.5M435.98 202v5.5M440.55 202v5.5M445.12 202v5.5M449.69 202v5.5M454.26 202v5.5M458.83 202v5.5M463.40 202v10M467.97 202v5.5M472.54 202v5.5M477.11 202v5.5M481.68 202v5.5M486.25 202v5.5M490.82 202v5.5M495.39 202v5.5M499.96 202v5.5M504.53 202v5.5M509.10 202v10" stroke="#000" stroke-width="1.8" fill="none"/>
<text x="52.1" y="226.5" font-size="21.5" text-anchor="middle">30</text><text x="97.8" y="226.5" font-size="21.5" text-anchor="middle">35</text><text x="143.5" y="226.5" font-size="21.5" text-anchor="middle">40</text><text x="189.2" y="226.5" font-size="21.5" text-anchor="middle">45</text><text x="234.9" y="226.5" font-size="21.5" text-anchor="middle">50</text><text x="280.6" y="226.5" font-size="21.5" text-anchor="middle">55</text><text x="326.3" y="226.5" font-size="21.5" text-anchor="middle">60</text><text x="372.0" y="226.5" font-size="21.5" text-anchor="middle">65</text><text x="417.7" y="226.5" font-size="21.5" text-anchor="middle">70</text><text x="463.4" y="226.5" font-size="21.5" text-anchor="middle">75</text><text x="509.1" y="226.5" font-size="21.5" text-anchor="middle">80</text>
<text x="231.5" y="249" font-size="22">2θ (degrees)</text>
<text transform="translate(29.8,97) rotate(-90)" font-size="22.5" text-anchor="middle">Intensity (arb. units)</text>
<text x="42.6" y="23.6" font-size="25">(a)</text>
<text x="167" y="28" font-size="21">R</text><text x="180" y="35.5" font-size="13">wp</text><text x="199" y="28" font-size="21">= 20.7 %</text>
<text x="167" y="59.5" font-size="21">R</text><text x="180" y="67" font-size="13">exp</text><text x="202" y="59.5" font-size="21">= 5.27 %</text>
<text x="167" y="90.5" font-size="21">R</text><text x="180" y="98" font-size="13">p</text><text x="193.5" y="90.5" font-size="21">=</text><text x="216.5" y="90.5" font-size="21">18.6 %</text>
<text x="167" y="121.5" font-size="21">GoF</text><text x="206.5" y="121.5" font-size="21">=</text><text x="229" y="121.5" font-size="21">3.92</text>
<circle cx="361.4" cy="21.4" r="3.6" fill="#f00"/>
<path d="M336.4 47.4H387" stroke="#000" stroke-width="1.6"/>
<path d="M336.4 75.6H387" stroke="#00f" stroke-width="1.6"/>
<path d="M361.4 97V108.7" stroke="#f0f" stroke-width="1.8"/>
<text x="393.5" y="28.5" font-size="21.5">Observed</text>
<text x="393.5" y="56" font-size="21.5">Calculated</text>
<text x="393.5" y="82.7" font-size="21.5">Difference</text>
<text x="393.5" y="108.7" font-size="21.5">Bragg peaks</text>
</g>
</svg>

</body></html>
